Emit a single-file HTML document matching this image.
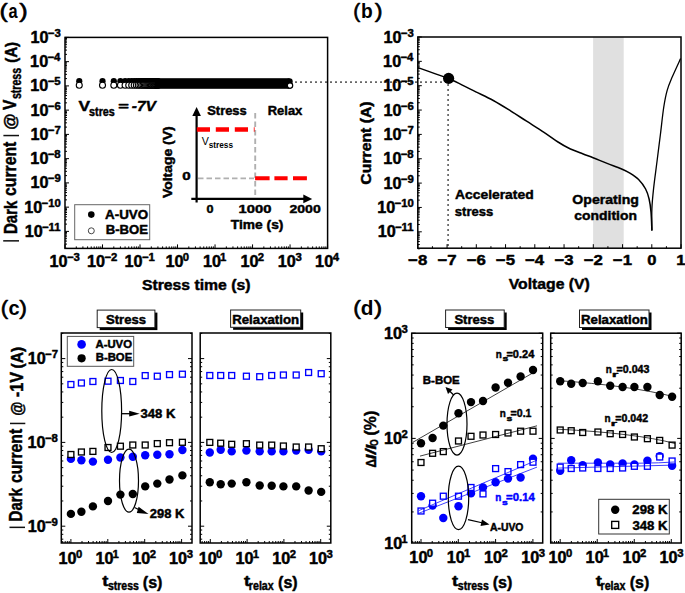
<!DOCTYPE html>
<html><head><meta charset="utf-8"><style>
html,body{margin:0;padding:0;background:#fff;overflow:hidden;width:685px;height:593px;}
svg{display:block;}
</style></head><body>
<svg width="685" height="593" viewBox="0 0 685 593">
<rect width="685" height="593" fill="#fff"/>
<text x="-0.43" y="17.60" font-family="Liberation Sans" font-size="20.6" font-weight="normal" fill="#000" textLength="8.23" lengthAdjust="spacingAndGlyphs"  stroke="#000" stroke-width="0.6" stroke-linejoin="round">(</text>
<text x="8.56" y="17.60" font-family="Liberation Sans" font-size="20.6" font-weight="bold" fill="#000" textLength="9.10" lengthAdjust="spacingAndGlyphs" >a</text>
<text x="19.17" y="17.60" font-family="Liberation Sans" font-size="20.6" font-weight="normal" fill="#000" textLength="8.42" lengthAdjust="spacingAndGlyphs"  stroke="#000" stroke-width="0.6" stroke-linejoin="round">)</text>
<circle cx="79.26" cy="81.20" r="3.1" fill="#000"/>
<circle cx="102.51" cy="81.20" r="3.1" fill="#000"/>
<circle cx="113.80" cy="81.20" r="3.1" fill="#000"/>
<circle cx="120.41" cy="81.20" r="3.1" fill="#000"/>
<circle cx="125.09" cy="81.20" r="3.1" fill="#000"/>
<circle cx="128.73" cy="81.20" r="3.1" fill="#000"/>
<circle cx="131.70" cy="81.20" r="3.1" fill="#000"/>
<circle cx="134.21" cy="81.20" r="3.1" fill="#000"/>
<circle cx="136.38" cy="81.20" r="3.1" fill="#000"/>
<circle cx="138.30" cy="81.20" r="3.1" fill="#000"/>
<circle cx="140.02" cy="81.20" r="3.1" fill="#000"/>
<circle cx="141.57" cy="81.20" r="3.1" fill="#000"/>
<circle cx="142.99" cy="81.20" r="3.1" fill="#000"/>
<circle cx="144.29" cy="81.20" r="3.1" fill="#000"/>
<circle cx="145.50" cy="81.20" r="3.1" fill="#000"/>
<circle cx="146.63" cy="81.20" r="3.1" fill="#000"/>
<circle cx="147.68" cy="81.20" r="3.1" fill="#000"/>
<circle cx="148.66" cy="81.20" r="3.1" fill="#000"/>
<circle cx="149.60" cy="81.20" r="3.1" fill="#000"/>
<circle cx="150.48" cy="81.20" r="3.1" fill="#000"/>
<circle cx="151.31" cy="81.20" r="3.1" fill="#000"/>
<circle cx="152.11" cy="81.20" r="3.1" fill="#000"/>
<circle cx="152.86" cy="81.20" r="3.1" fill="#000"/>
<circle cx="153.59" cy="81.20" r="3.1" fill="#000"/>
<circle cx="154.28" cy="81.20" r="3.1" fill="#000"/>
<circle cx="154.95" cy="81.20" r="3.1" fill="#000"/>
<circle cx="155.59" cy="81.20" r="3.1" fill="#000"/>
<circle cx="156.20" cy="81.20" r="3.1" fill="#000"/>
<circle cx="156.79" cy="81.20" r="3.1" fill="#000"/>
<circle cx="157.36" cy="81.20" r="3.1" fill="#000"/>
<circle cx="157.92" cy="81.20" r="3.1" fill="#000"/>
<circle cx="79.26" cy="85.3" r="3.0" fill="#fff" stroke="#000" stroke-width="1.1"/>
<circle cx="102.51" cy="85.3" r="3.0" fill="#fff" stroke="#000" stroke-width="1.1"/>
<circle cx="113.80" cy="85.3" r="3.0" fill="#fff" stroke="#000" stroke-width="1.1"/>
<circle cx="120.41" cy="85.3" r="3.0" fill="#fff" stroke="#000" stroke-width="1.1"/>
<circle cx="125.09" cy="85.3" r="3.0" fill="#fff" stroke="#000" stroke-width="1.1"/>
<circle cx="128.73" cy="85.3" r="3.0" fill="#fff" stroke="#000" stroke-width="1.1"/>
<circle cx="131.70" cy="85.3" r="3.0" fill="#fff" stroke="#000" stroke-width="1.1"/>
<circle cx="134.21" cy="85.3" r="3.0" fill="#fff" stroke="#000" stroke-width="1.1"/>
<circle cx="136.38" cy="85.3" r="3.0" fill="#fff" stroke="#000" stroke-width="1.1"/>
<circle cx="138.30" cy="85.3" r="3.0" fill="#fff" stroke="#000" stroke-width="1.1"/>
<circle cx="140.02" cy="85.3" r="3.0" fill="#fff" stroke="#000" stroke-width="1.1"/>
<circle cx="141.57" cy="85.3" r="3.0" fill="#fff" stroke="#000" stroke-width="1.1"/>
<circle cx="142.99" cy="85.3" r="3.0" fill="#fff" stroke="#000" stroke-width="1.1"/>
<circle cx="144.29" cy="85.3" r="3.0" fill="#fff" stroke="#000" stroke-width="1.1"/>
<circle cx="145.50" cy="85.3" r="3.0" fill="#fff" stroke="#000" stroke-width="1.1"/>
<circle cx="146.63" cy="85.3" r="3.0" fill="#fff" stroke="#000" stroke-width="1.1"/>
<circle cx="147.68" cy="85.3" r="3.0" fill="#fff" stroke="#000" stroke-width="1.1"/>
<circle cx="148.66" cy="85.3" r="3.0" fill="#fff" stroke="#000" stroke-width="1.1"/>
<circle cx="149.60" cy="85.3" r="3.0" fill="#fff" stroke="#000" stroke-width="1.1"/>
<circle cx="150.48" cy="85.3" r="3.0" fill="#fff" stroke="#000" stroke-width="1.1"/>
<circle cx="151.31" cy="85.3" r="3.0" fill="#fff" stroke="#000" stroke-width="1.1"/>
<circle cx="152.11" cy="85.3" r="3.0" fill="#fff" stroke="#000" stroke-width="1.1"/>
<circle cx="152.86" cy="85.3" r="3.0" fill="#fff" stroke="#000" stroke-width="1.1"/>
<circle cx="153.59" cy="85.3" r="3.0" fill="#fff" stroke="#000" stroke-width="1.1"/>
<circle cx="154.28" cy="85.3" r="3.0" fill="#fff" stroke="#000" stroke-width="1.1"/>
<circle cx="154.95" cy="85.3" r="3.0" fill="#fff" stroke="#000" stroke-width="1.1"/>
<circle cx="155.59" cy="85.3" r="3.0" fill="#fff" stroke="#000" stroke-width="1.1"/>
<circle cx="156.20" cy="85.3" r="3.0" fill="#fff" stroke="#000" stroke-width="1.1"/>
<circle cx="156.79" cy="85.3" r="3.0" fill="#fff" stroke="#000" stroke-width="1.1"/>
<circle cx="157.36" cy="85.3" r="3.0" fill="#fff" stroke="#000" stroke-width="1.1"/>
<circle cx="157.92" cy="85.3" r="3.0" fill="#fff" stroke="#000" stroke-width="1.1"/>
<rect x="154.95" y="78.2" width="134.55" height="10.6" fill="#000"/>
<circle cx="289.5" cy="81.4" r="3.2" fill="#000"/>
<circle cx="289.5" cy="85.4" r="3.2" fill="#000"/>
<circle cx="290" cy="85.6" r="2.7" fill="#fff" stroke="#000" stroke-width="1.2"/>
<line x1="295" y1="82.2" x2="448" y2="82.2" stroke="#666" stroke-width="1.7" stroke-dasharray="2,3"/>
<rect x="65.00" y="37.40" width="262.60" height="211.00" fill="none" stroke="#000" stroke-width="1.5"/>
<line x1="65.00" y1="248.35" x2="67.00" y2="248.35" stroke="#000" stroke-width="1.0" />
<line x1="65.00" y1="244.08" x2="67.00" y2="244.08" stroke="#000" stroke-width="1.0" />
<line x1="65.00" y1="241.05" x2="67.00" y2="241.05" stroke="#000" stroke-width="1.0" />
<line x1="65.00" y1="238.70" x2="67.00" y2="238.70" stroke="#000" stroke-width="1.0" />
<line x1="65.00" y1="236.78" x2="67.00" y2="236.78" stroke="#000" stroke-width="1.0" />
<line x1="65.00" y1="235.16" x2="67.00" y2="235.16" stroke="#000" stroke-width="1.0" />
<line x1="65.00" y1="233.75" x2="67.00" y2="233.75" stroke="#000" stroke-width="1.0" />
<line x1="65.00" y1="232.51" x2="67.00" y2="232.51" stroke="#000" stroke-width="1.0" />
<line x1="65.00" y1="231.40" x2="69.00" y2="231.40" stroke="#000" stroke-width="1.0" />
<line x1="65.00" y1="224.10" x2="67.00" y2="224.10" stroke="#000" stroke-width="1.0" />
<line x1="65.00" y1="219.83" x2="67.00" y2="219.83" stroke="#000" stroke-width="1.0" />
<line x1="65.00" y1="216.80" x2="67.00" y2="216.80" stroke="#000" stroke-width="1.0" />
<line x1="65.00" y1="214.45" x2="67.00" y2="214.45" stroke="#000" stroke-width="1.0" />
<line x1="65.00" y1="212.53" x2="67.00" y2="212.53" stroke="#000" stroke-width="1.0" />
<line x1="65.00" y1="210.91" x2="67.00" y2="210.91" stroke="#000" stroke-width="1.0" />
<line x1="65.00" y1="209.50" x2="67.00" y2="209.50" stroke="#000" stroke-width="1.0" />
<line x1="65.00" y1="208.26" x2="67.00" y2="208.26" stroke="#000" stroke-width="1.0" />
<line x1="65.00" y1="207.15" x2="69.00" y2="207.15" stroke="#000" stroke-width="1.0" />
<line x1="65.00" y1="199.85" x2="67.00" y2="199.85" stroke="#000" stroke-width="1.0" />
<line x1="65.00" y1="195.58" x2="67.00" y2="195.58" stroke="#000" stroke-width="1.0" />
<line x1="65.00" y1="192.55" x2="67.00" y2="192.55" stroke="#000" stroke-width="1.0" />
<line x1="65.00" y1="190.20" x2="67.00" y2="190.20" stroke="#000" stroke-width="1.0" />
<line x1="65.00" y1="188.28" x2="67.00" y2="188.28" stroke="#000" stroke-width="1.0" />
<line x1="65.00" y1="186.66" x2="67.00" y2="186.66" stroke="#000" stroke-width="1.0" />
<line x1="65.00" y1="185.25" x2="67.00" y2="185.25" stroke="#000" stroke-width="1.0" />
<line x1="65.00" y1="184.01" x2="67.00" y2="184.01" stroke="#000" stroke-width="1.0" />
<line x1="65.00" y1="182.90" x2="69.00" y2="182.90" stroke="#000" stroke-width="1.0" />
<line x1="65.00" y1="175.60" x2="67.00" y2="175.60" stroke="#000" stroke-width="1.0" />
<line x1="65.00" y1="171.33" x2="67.00" y2="171.33" stroke="#000" stroke-width="1.0" />
<line x1="65.00" y1="168.30" x2="67.00" y2="168.30" stroke="#000" stroke-width="1.0" />
<line x1="65.00" y1="165.95" x2="67.00" y2="165.95" stroke="#000" stroke-width="1.0" />
<line x1="65.00" y1="164.03" x2="67.00" y2="164.03" stroke="#000" stroke-width="1.0" />
<line x1="65.00" y1="162.41" x2="67.00" y2="162.41" stroke="#000" stroke-width="1.0" />
<line x1="65.00" y1="161.00" x2="67.00" y2="161.00" stroke="#000" stroke-width="1.0" />
<line x1="65.00" y1="159.76" x2="67.00" y2="159.76" stroke="#000" stroke-width="1.0" />
<line x1="65.00" y1="158.65" x2="69.00" y2="158.65" stroke="#000" stroke-width="1.0" />
<line x1="65.00" y1="151.35" x2="67.00" y2="151.35" stroke="#000" stroke-width="1.0" />
<line x1="65.00" y1="147.08" x2="67.00" y2="147.08" stroke="#000" stroke-width="1.0" />
<line x1="65.00" y1="144.05" x2="67.00" y2="144.05" stroke="#000" stroke-width="1.0" />
<line x1="65.00" y1="141.70" x2="67.00" y2="141.70" stroke="#000" stroke-width="1.0" />
<line x1="65.00" y1="139.78" x2="67.00" y2="139.78" stroke="#000" stroke-width="1.0" />
<line x1="65.00" y1="138.16" x2="67.00" y2="138.16" stroke="#000" stroke-width="1.0" />
<line x1="65.00" y1="136.75" x2="67.00" y2="136.75" stroke="#000" stroke-width="1.0" />
<line x1="65.00" y1="135.51" x2="67.00" y2="135.51" stroke="#000" stroke-width="1.0" />
<line x1="65.00" y1="134.40" x2="69.00" y2="134.40" stroke="#000" stroke-width="1.0" />
<line x1="65.00" y1="127.10" x2="67.00" y2="127.10" stroke="#000" stroke-width="1.0" />
<line x1="65.00" y1="122.83" x2="67.00" y2="122.83" stroke="#000" stroke-width="1.0" />
<line x1="65.00" y1="119.80" x2="67.00" y2="119.80" stroke="#000" stroke-width="1.0" />
<line x1="65.00" y1="117.45" x2="67.00" y2="117.45" stroke="#000" stroke-width="1.0" />
<line x1="65.00" y1="115.53" x2="67.00" y2="115.53" stroke="#000" stroke-width="1.0" />
<line x1="65.00" y1="113.91" x2="67.00" y2="113.91" stroke="#000" stroke-width="1.0" />
<line x1="65.00" y1="112.50" x2="67.00" y2="112.50" stroke="#000" stroke-width="1.0" />
<line x1="65.00" y1="111.26" x2="67.00" y2="111.26" stroke="#000" stroke-width="1.0" />
<line x1="65.00" y1="110.15" x2="69.00" y2="110.15" stroke="#000" stroke-width="1.0" />
<line x1="65.00" y1="102.85" x2="67.00" y2="102.85" stroke="#000" stroke-width="1.0" />
<line x1="65.00" y1="98.58" x2="67.00" y2="98.58" stroke="#000" stroke-width="1.0" />
<line x1="65.00" y1="95.55" x2="67.00" y2="95.55" stroke="#000" stroke-width="1.0" />
<line x1="65.00" y1="93.20" x2="67.00" y2="93.20" stroke="#000" stroke-width="1.0" />
<line x1="65.00" y1="91.28" x2="67.00" y2="91.28" stroke="#000" stroke-width="1.0" />
<line x1="65.00" y1="89.66" x2="67.00" y2="89.66" stroke="#000" stroke-width="1.0" />
<line x1="65.00" y1="88.25" x2="67.00" y2="88.25" stroke="#000" stroke-width="1.0" />
<line x1="65.00" y1="87.01" x2="67.00" y2="87.01" stroke="#000" stroke-width="1.0" />
<line x1="65.00" y1="85.90" x2="69.00" y2="85.90" stroke="#000" stroke-width="1.0" />
<line x1="65.00" y1="78.60" x2="67.00" y2="78.60" stroke="#000" stroke-width="1.0" />
<line x1="65.00" y1="74.33" x2="67.00" y2="74.33" stroke="#000" stroke-width="1.0" />
<line x1="65.00" y1="71.30" x2="67.00" y2="71.30" stroke="#000" stroke-width="1.0" />
<line x1="65.00" y1="68.95" x2="67.00" y2="68.95" stroke="#000" stroke-width="1.0" />
<line x1="65.00" y1="67.03" x2="67.00" y2="67.03" stroke="#000" stroke-width="1.0" />
<line x1="65.00" y1="65.41" x2="67.00" y2="65.41" stroke="#000" stroke-width="1.0" />
<line x1="65.00" y1="64.00" x2="67.00" y2="64.00" stroke="#000" stroke-width="1.0" />
<line x1="65.00" y1="62.76" x2="67.00" y2="62.76" stroke="#000" stroke-width="1.0" />
<line x1="65.00" y1="61.65" x2="69.00" y2="61.65" stroke="#000" stroke-width="1.0" />
<line x1="65.00" y1="54.35" x2="67.00" y2="54.35" stroke="#000" stroke-width="1.0" />
<line x1="65.00" y1="50.08" x2="67.00" y2="50.08" stroke="#000" stroke-width="1.0" />
<line x1="65.00" y1="47.05" x2="67.00" y2="47.05" stroke="#000" stroke-width="1.0" />
<line x1="65.00" y1="44.70" x2="67.00" y2="44.70" stroke="#000" stroke-width="1.0" />
<line x1="65.00" y1="42.78" x2="67.00" y2="42.78" stroke="#000" stroke-width="1.0" />
<line x1="65.00" y1="41.16" x2="67.00" y2="41.16" stroke="#000" stroke-width="1.0" />
<line x1="65.00" y1="39.75" x2="67.00" y2="39.75" stroke="#000" stroke-width="1.0" />
<line x1="65.00" y1="38.51" x2="67.00" y2="38.51" stroke="#000" stroke-width="1.0" />
<line x1="65.00" y1="37.40" x2="69.00" y2="37.40" stroke="#000" stroke-width="1.0" />
<line x1="65.00" y1="248.40" x2="65.00" y2="244.40" stroke="#000" stroke-width="1.0" />
<line x1="76.29" y1="248.40" x2="76.29" y2="246.40" stroke="#000" stroke-width="1.0" />
<line x1="82.90" y1="248.40" x2="82.90" y2="246.40" stroke="#000" stroke-width="1.0" />
<line x1="87.58" y1="248.40" x2="87.58" y2="246.40" stroke="#000" stroke-width="1.0" />
<line x1="91.22" y1="248.40" x2="91.22" y2="246.40" stroke="#000" stroke-width="1.0" />
<line x1="94.19" y1="248.40" x2="94.19" y2="246.40" stroke="#000" stroke-width="1.0" />
<line x1="96.70" y1="248.40" x2="96.70" y2="246.40" stroke="#000" stroke-width="1.0" />
<line x1="98.87" y1="248.40" x2="98.87" y2="246.40" stroke="#000" stroke-width="1.0" />
<line x1="100.79" y1="248.40" x2="100.79" y2="246.40" stroke="#000" stroke-width="1.0" />
<line x1="102.51" y1="248.40" x2="102.51" y2="244.40" stroke="#000" stroke-width="1.0" />
<line x1="113.80" y1="248.40" x2="113.80" y2="246.40" stroke="#000" stroke-width="1.0" />
<line x1="120.41" y1="248.40" x2="120.41" y2="246.40" stroke="#000" stroke-width="1.0" />
<line x1="125.09" y1="248.40" x2="125.09" y2="246.40" stroke="#000" stroke-width="1.0" />
<line x1="128.73" y1="248.40" x2="128.73" y2="246.40" stroke="#000" stroke-width="1.0" />
<line x1="131.70" y1="248.40" x2="131.70" y2="246.40" stroke="#000" stroke-width="1.0" />
<line x1="134.21" y1="248.40" x2="134.21" y2="246.40" stroke="#000" stroke-width="1.0" />
<line x1="136.38" y1="248.40" x2="136.38" y2="246.40" stroke="#000" stroke-width="1.0" />
<line x1="138.30" y1="248.40" x2="138.30" y2="246.40" stroke="#000" stroke-width="1.0" />
<line x1="140.02" y1="248.40" x2="140.02" y2="244.40" stroke="#000" stroke-width="1.0" />
<line x1="151.31" y1="248.40" x2="151.31" y2="246.40" stroke="#000" stroke-width="1.0" />
<line x1="157.92" y1="248.40" x2="157.92" y2="246.40" stroke="#000" stroke-width="1.0" />
<line x1="162.60" y1="248.40" x2="162.60" y2="246.40" stroke="#000" stroke-width="1.0" />
<line x1="166.24" y1="248.40" x2="166.24" y2="246.40" stroke="#000" stroke-width="1.0" />
<line x1="169.21" y1="248.40" x2="169.21" y2="246.40" stroke="#000" stroke-width="1.0" />
<line x1="171.72" y1="248.40" x2="171.72" y2="246.40" stroke="#000" stroke-width="1.0" />
<line x1="173.89" y1="248.40" x2="173.89" y2="246.40" stroke="#000" stroke-width="1.0" />
<line x1="175.81" y1="248.40" x2="175.81" y2="246.40" stroke="#000" stroke-width="1.0" />
<line x1="177.53" y1="248.40" x2="177.53" y2="244.40" stroke="#000" stroke-width="1.0" />
<line x1="188.82" y1="248.40" x2="188.82" y2="246.40" stroke="#000" stroke-width="1.0" />
<line x1="195.43" y1="248.40" x2="195.43" y2="246.40" stroke="#000" stroke-width="1.0" />
<line x1="200.11" y1="248.40" x2="200.11" y2="246.40" stroke="#000" stroke-width="1.0" />
<line x1="203.75" y1="248.40" x2="203.75" y2="246.40" stroke="#000" stroke-width="1.0" />
<line x1="206.72" y1="248.40" x2="206.72" y2="246.40" stroke="#000" stroke-width="1.0" />
<line x1="209.23" y1="248.40" x2="209.23" y2="246.40" stroke="#000" stroke-width="1.0" />
<line x1="211.40" y1="248.40" x2="211.40" y2="246.40" stroke="#000" stroke-width="1.0" />
<line x1="213.32" y1="248.40" x2="213.32" y2="246.40" stroke="#000" stroke-width="1.0" />
<line x1="215.04" y1="248.40" x2="215.04" y2="244.40" stroke="#000" stroke-width="1.0" />
<line x1="226.33" y1="248.40" x2="226.33" y2="246.40" stroke="#000" stroke-width="1.0" />
<line x1="232.94" y1="248.40" x2="232.94" y2="246.40" stroke="#000" stroke-width="1.0" />
<line x1="237.62" y1="248.40" x2="237.62" y2="246.40" stroke="#000" stroke-width="1.0" />
<line x1="241.26" y1="248.40" x2="241.26" y2="246.40" stroke="#000" stroke-width="1.0" />
<line x1="244.23" y1="248.40" x2="244.23" y2="246.40" stroke="#000" stroke-width="1.0" />
<line x1="246.74" y1="248.40" x2="246.74" y2="246.40" stroke="#000" stroke-width="1.0" />
<line x1="248.91" y1="248.40" x2="248.91" y2="246.40" stroke="#000" stroke-width="1.0" />
<line x1="250.83" y1="248.40" x2="250.83" y2="246.40" stroke="#000" stroke-width="1.0" />
<line x1="252.55" y1="248.40" x2="252.55" y2="244.40" stroke="#000" stroke-width="1.0" />
<line x1="263.84" y1="248.40" x2="263.84" y2="246.40" stroke="#000" stroke-width="1.0" />
<line x1="270.45" y1="248.40" x2="270.45" y2="246.40" stroke="#000" stroke-width="1.0" />
<line x1="275.13" y1="248.40" x2="275.13" y2="246.40" stroke="#000" stroke-width="1.0" />
<line x1="278.77" y1="248.40" x2="278.77" y2="246.40" stroke="#000" stroke-width="1.0" />
<line x1="281.74" y1="248.40" x2="281.74" y2="246.40" stroke="#000" stroke-width="1.0" />
<line x1="284.25" y1="248.40" x2="284.25" y2="246.40" stroke="#000" stroke-width="1.0" />
<line x1="286.42" y1="248.40" x2="286.42" y2="246.40" stroke="#000" stroke-width="1.0" />
<line x1="288.34" y1="248.40" x2="288.34" y2="246.40" stroke="#000" stroke-width="1.0" />
<line x1="290.06" y1="248.40" x2="290.06" y2="244.40" stroke="#000" stroke-width="1.0" />
<line x1="301.35" y1="248.40" x2="301.35" y2="246.40" stroke="#000" stroke-width="1.0" />
<line x1="307.96" y1="248.40" x2="307.96" y2="246.40" stroke="#000" stroke-width="1.0" />
<line x1="312.64" y1="248.40" x2="312.64" y2="246.40" stroke="#000" stroke-width="1.0" />
<line x1="316.28" y1="248.40" x2="316.28" y2="246.40" stroke="#000" stroke-width="1.0" />
<line x1="319.25" y1="248.40" x2="319.25" y2="246.40" stroke="#000" stroke-width="1.0" />
<line x1="321.76" y1="248.40" x2="321.76" y2="246.40" stroke="#000" stroke-width="1.0" />
<line x1="323.93" y1="248.40" x2="323.93" y2="246.40" stroke="#000" stroke-width="1.0" />
<line x1="325.85" y1="248.40" x2="325.85" y2="246.40" stroke="#000" stroke-width="1.0" />
<line x1="327.57" y1="248.40" x2="327.57" y2="244.40" stroke="#000" stroke-width="1.0" />
<text x="47.77" y="36.90" font-family="Liberation Sans" font-size="10.8" font-weight="bold" fill="#000" textLength="12.93" lengthAdjust="spacingAndGlyphs"  stroke="#000" stroke-width="0.45" stroke-linejoin="round">−3</text>
<text x="30.45" y="42.90" font-family="Liberation Sans" font-size="15.6" font-weight="bold" fill="#000" textLength="18.06" lengthAdjust="spacingAndGlyphs"  stroke="#000" stroke-width="0.45" stroke-linejoin="round">10</text>
<text x="47.43" y="61.15" font-family="Liberation Sans" font-size="10.8" font-weight="bold" fill="#000" textLength="12.93" lengthAdjust="spacingAndGlyphs"  stroke="#000" stroke-width="0.45" stroke-linejoin="round">−4</text>
<text x="30.11" y="67.15" font-family="Liberation Sans" font-size="15.6" font-weight="bold" fill="#000" textLength="18.06" lengthAdjust="spacingAndGlyphs"  stroke="#000" stroke-width="0.45" stroke-linejoin="round">10</text>
<text x="47.66" y="85.40" font-family="Liberation Sans" font-size="10.8" font-weight="bold" fill="#000" textLength="12.93" lengthAdjust="spacingAndGlyphs"  stroke="#000" stroke-width="0.45" stroke-linejoin="round">−5</text>
<text x="30.34" y="91.40" font-family="Liberation Sans" font-size="15.6" font-weight="bold" fill="#000" textLength="18.06" lengthAdjust="spacingAndGlyphs"  stroke="#000" stroke-width="0.45" stroke-linejoin="round">10</text>
<text x="47.77" y="109.65" font-family="Liberation Sans" font-size="10.8" font-weight="bold" fill="#000" textLength="12.93" lengthAdjust="spacingAndGlyphs"  stroke="#000" stroke-width="0.45" stroke-linejoin="round">−6</text>
<text x="30.45" y="115.65" font-family="Liberation Sans" font-size="15.6" font-weight="bold" fill="#000" textLength="18.06" lengthAdjust="spacingAndGlyphs"  stroke="#000" stroke-width="0.45" stroke-linejoin="round">10</text>
<text x="47.83" y="133.90" font-family="Liberation Sans" font-size="10.8" font-weight="bold" fill="#000" textLength="12.93" lengthAdjust="spacingAndGlyphs"  stroke="#000" stroke-width="0.45" stroke-linejoin="round">−7</text>
<text x="30.51" y="139.90" font-family="Liberation Sans" font-size="15.6" font-weight="bold" fill="#000" textLength="18.06" lengthAdjust="spacingAndGlyphs"  stroke="#000" stroke-width="0.45" stroke-linejoin="round">10</text>
<text x="47.71" y="158.15" font-family="Liberation Sans" font-size="10.8" font-weight="bold" fill="#000" textLength="12.93" lengthAdjust="spacingAndGlyphs"  stroke="#000" stroke-width="0.45" stroke-linejoin="round">−8</text>
<text x="30.39" y="164.15" font-family="Liberation Sans" font-size="15.6" font-weight="bold" fill="#000" textLength="18.06" lengthAdjust="spacingAndGlyphs"  stroke="#000" stroke-width="0.45" stroke-linejoin="round">10</text>
<text x="47.77" y="182.40" font-family="Liberation Sans" font-size="10.8" font-weight="bold" fill="#000" textLength="12.93" lengthAdjust="spacingAndGlyphs"  stroke="#000" stroke-width="0.45" stroke-linejoin="round">−9</text>
<text x="30.45" y="188.40" font-family="Liberation Sans" font-size="15.6" font-weight="bold" fill="#000" textLength="18.06" lengthAdjust="spacingAndGlyphs"  stroke="#000" stroke-width="0.45" stroke-linejoin="round">10</text>
<text x="41.53" y="206.65" font-family="Liberation Sans" font-size="10.8" font-weight="bold" fill="#000" textLength="19.24" lengthAdjust="spacingAndGlyphs"  stroke="#000" stroke-width="0.45" stroke-linejoin="round">−10</text>
<text x="24.21" y="212.65" font-family="Liberation Sans" font-size="15.6" font-weight="bold" fill="#000" textLength="18.06" lengthAdjust="spacingAndGlyphs"  stroke="#000" stroke-width="0.45" stroke-linejoin="round">10</text>
<text x="41.99" y="230.90" font-family="Liberation Sans" font-size="10.8" font-weight="bold" fill="#000" textLength="18.61" lengthAdjust="spacingAndGlyphs"  stroke="#000" stroke-width="0.45" stroke-linejoin="round">−11</text>
<text x="24.67" y="236.90" font-family="Liberation Sans" font-size="15.6" font-weight="bold" fill="#000" textLength="18.06" lengthAdjust="spacingAndGlyphs"  stroke="#000" stroke-width="0.45" stroke-linejoin="round">10</text>
<text x="49.54" y="267.20" font-family="Liberation Sans" font-size="15.6" font-weight="bold" fill="#000" textLength="18.06" lengthAdjust="spacingAndGlyphs"  stroke="#000" stroke-width="0.45" stroke-linejoin="round">10</text>
<text x="66.96" y="261.20" font-family="Liberation Sans" font-size="10.8" font-weight="bold" fill="#000" textLength="12.93" lengthAdjust="spacingAndGlyphs"  stroke="#000" stroke-width="0.45" stroke-linejoin="round">−3</text>
<text x="87.08" y="267.20" font-family="Liberation Sans" font-size="15.6" font-weight="bold" fill="#000" textLength="18.06" lengthAdjust="spacingAndGlyphs"  stroke="#000" stroke-width="0.45" stroke-linejoin="round">10</text>
<text x="104.50" y="261.20" font-family="Liberation Sans" font-size="10.8" font-weight="bold" fill="#000" textLength="12.93" lengthAdjust="spacingAndGlyphs"  stroke="#000" stroke-width="0.45" stroke-linejoin="round">−2</text>
<text x="124.50" y="267.20" font-family="Liberation Sans" font-size="15.6" font-weight="bold" fill="#000" textLength="18.06" lengthAdjust="spacingAndGlyphs"  stroke="#000" stroke-width="0.45" stroke-linejoin="round">10</text>
<text x="141.92" y="261.20" font-family="Liberation Sans" font-size="10.8" font-weight="bold" fill="#000" textLength="12.93" lengthAdjust="spacingAndGlyphs"  stroke="#000" stroke-width="0.45" stroke-linejoin="round">−1</text>
<text x="165.41" y="267.20" font-family="Liberation Sans" font-size="15.6" font-weight="bold" fill="#000" textLength="18.06" lengthAdjust="spacingAndGlyphs"  stroke="#000" stroke-width="0.45" stroke-linejoin="round">10</text>
<text x="182.83" y="261.20" font-family="Liberation Sans" font-size="10.8" font-weight="bold" fill="#000" textLength="6.31" lengthAdjust="spacingAndGlyphs"  stroke="#000" stroke-width="0.45" stroke-linejoin="round">0</text>
<text x="202.95" y="267.20" font-family="Liberation Sans" font-size="15.6" font-weight="bold" fill="#000" textLength="18.06" lengthAdjust="spacingAndGlyphs"  stroke="#000" stroke-width="0.45" stroke-linejoin="round">10</text>
<text x="220.14" y="261.20" font-family="Liberation Sans" font-size="10.8" font-weight="bold" fill="#000" textLength="6.31" lengthAdjust="spacingAndGlyphs"  stroke="#000" stroke-width="0.45" stroke-linejoin="round">1</text>
<text x="240.40" y="267.20" font-family="Liberation Sans" font-size="15.6" font-weight="bold" fill="#000" textLength="18.06" lengthAdjust="spacingAndGlyphs"  stroke="#000" stroke-width="0.45" stroke-linejoin="round">10</text>
<text x="257.88" y="261.20" font-family="Liberation Sans" font-size="10.8" font-weight="bold" fill="#000" textLength="6.31" lengthAdjust="spacingAndGlyphs"  stroke="#000" stroke-width="0.45" stroke-linejoin="round">2</text>
<text x="277.83" y="267.20" font-family="Liberation Sans" font-size="15.6" font-weight="bold" fill="#000" textLength="18.06" lengthAdjust="spacingAndGlyphs"  stroke="#000" stroke-width="0.45" stroke-linejoin="round">10</text>
<text x="295.42" y="261.20" font-family="Liberation Sans" font-size="10.8" font-weight="bold" fill="#000" textLength="6.31" lengthAdjust="spacingAndGlyphs"  stroke="#000" stroke-width="0.45" stroke-linejoin="round">3</text>
<text x="315.11" y="267.20" font-family="Liberation Sans" font-size="15.6" font-weight="bold" fill="#000" textLength="18.06" lengthAdjust="spacingAndGlyphs"  stroke="#000" stroke-width="0.45" stroke-linejoin="round">10</text>
<text x="332.82" y="261.20" font-family="Liberation Sans" font-size="10.8" font-weight="bold" fill="#000" textLength="6.31" lengthAdjust="spacingAndGlyphs"  stroke="#000" stroke-width="0.45" stroke-linejoin="round">4</text>
<text x="141.93" y="289.60" font-family="Liberation Sans" font-size="14.7" font-weight="bold" fill="#000" textLength="108.61" lengthAdjust="spacingAndGlyphs"  stroke="#000" stroke-width="0.45" stroke-linejoin="round">Stress time (s)</text>
<rect x="3.2" y="240.1" width="15.8" height="1.5" fill="#111"/>
<text transform="translate(16.70,233.97) rotate(-90)" x="0" y="0" font-family="Liberation Sans" font-size="18.5" font-weight="bold" fill="#000" textLength="33.36" lengthAdjust="spacingAndGlyphs"  stroke="#000" stroke-width="0.45" stroke-linejoin="round">Dark</text>
<text transform="translate(16.00,196.03) rotate(-90)" x="0" y="0" font-family="Liberation Sans" font-size="17.5" font-weight="bold" fill="#000" textLength="54.37" lengthAdjust="spacingAndGlyphs"  stroke="#000" stroke-width="0.45" stroke-linejoin="round">current</text>
<rect x="3.4" y="134.8" width="15.6" height="1.5" fill="#111"/>
<text transform="translate(16.00,129.72) rotate(-90)" x="0" y="0" font-family="Liberation Sans" font-size="17.4" font-weight="bold" fill="#000" textLength="16.23" lengthAdjust="spacingAndGlyphs"  stroke="#000" stroke-width="0.45" stroke-linejoin="round">@</text>
<text transform="translate(16.00,109.88) rotate(-90)" x="0" y="0" font-family="Liberation Sans" font-size="17.6" font-weight="bold" fill="#000" textLength="10.39" lengthAdjust="spacingAndGlyphs"  stroke="#000" stroke-width="0.45" stroke-linejoin="round">V</text>
<text transform="translate(20.90,99.07) rotate(-90)" x="0" y="0" font-family="Liberation Sans" font-size="14" font-weight="bold" fill="#000" textLength="31.21" lengthAdjust="spacingAndGlyphs"  stroke="#000" stroke-width="0.45" stroke-linejoin="round">stress</text>
<text transform="translate(16.50,62.85) rotate(-90)" x="0" y="0" font-family="Liberation Sans" font-size="17.3" font-weight="bold" fill="#000" textLength="20.88" lengthAdjust="spacingAndGlyphs"  stroke="#000" stroke-width="0.45" stroke-linejoin="round">(A)</text>
<text x="78.61" y="111.40" font-family="Liberation Sans" font-size="15.5" font-weight="bold" fill="#000" textLength="11.61" lengthAdjust="spacingAndGlyphs"  stroke="#000" stroke-width="0.45" stroke-linejoin="round">V</text>
<text x="89.12" y="116.00" font-family="Liberation Sans" font-size="12.3" font-weight="bold" fill="#000" textLength="25.71" lengthAdjust="spacingAndGlyphs"  stroke="#000" stroke-width="0.45" stroke-linejoin="round">stres</text>
<text x="118.27" y="110.40" font-family="Liberation Sans" font-size="11" font-weight="bold" fill="#000" textLength="10.64" lengthAdjust="spacingAndGlyphs"  stroke="#000" stroke-width="0.45" stroke-linejoin="round">=</text>
<text x="131.73" y="111.40" font-family="Liberation Sans" font-size="15.5" font-weight="bold" font-style="italic" fill="#000" textLength="24.30" lengthAdjust="spacingAndGlyphs"  stroke="#000" stroke-width="0.45" stroke-linejoin="round">-7V</text>
<rect x="74.70" y="204.70" width="75.00" height="35.00" fill="none" stroke="#666" stroke-width="1.0"/>
<circle cx="91.30" cy="214.60" r="3.3" fill="#000"/>
<circle cx="91.3" cy="230.8" r="3.0" fill="#fff" stroke="#333" stroke-width="0.9"/>
<text x="105.07" y="218.90" font-family="Liberation Sans" font-size="12.6" font-weight="bold" fill="#000" textLength="43.10" lengthAdjust="spacingAndGlyphs"  stroke="#000" stroke-width="0.45" stroke-linejoin="round">A-UVO</text>
<text x="105.75" y="234.40" font-family="Liberation Sans" font-size="12.6" font-weight="bold" fill="#000" textLength="42.34" lengthAdjust="spacingAndGlyphs"  stroke="#000" stroke-width="0.45" stroke-linejoin="round">B-BOE</text>
<line x1="196.60" y1="115.00" x2="196.60" y2="202.50" stroke="#000" stroke-width="2.2" />
<polygon points="196.6,107 192.3,116 200.9,116" fill="#000"/>
<line x1="191.30" y1="198.90" x2="304.00" y2="198.90" stroke="#000" stroke-width="2.2" />
<polygon points="312.2,198.9 303.3,194.6 303.3,203.3" fill="#000"/>
<line x1="198" y1="178.4" x2="254" y2="178.4" stroke="#b0b0b0" stroke-width="1.9" stroke-dasharray="5.5,3"/>
<line x1="255.2" y1="113" x2="255.2" y2="198" stroke="#b0b0b0" stroke-width="1.9" stroke-dasharray="5.5,3"/>
<line x1="196.8" y1="129.6" x2="254.6" y2="129.6" stroke="#f00" stroke-width="4.5" stroke-dasharray="13.2,5.8"/>
<line x1="255.1" y1="178.3" x2="306.9" y2="178.3" stroke="#f00" stroke-width="4" stroke-dasharray="14.5,4.8,13.2,5.4,14"/>
<text x="207.21" y="114.90" font-family="Liberation Sans" font-size="13" font-weight="bold" fill="#000" textLength="39.54" lengthAdjust="spacingAndGlyphs"  stroke="#000" stroke-width="0.45" stroke-linejoin="round">Stress</text>
<text x="267.76" y="114.90" font-family="Liberation Sans" font-size="13" font-weight="bold" fill="#000" textLength="34.55" lengthAdjust="spacingAndGlyphs"  stroke="#000" stroke-width="0.45" stroke-linejoin="round">Relax</text>
<text transform="translate(172.30,198.07) rotate(-90)" x="0" y="0" font-family="Liberation Sans" font-size="12.5" font-weight="bold" fill="#000" textLength="71.75" lengthAdjust="spacingAndGlyphs"  stroke="#000" stroke-width="0.45" stroke-linejoin="round">Voltage (V)</text>
<text x="201.65" y="145.20" font-family="Liberation Sans" font-size="10.5" font-weight="normal" fill="#000" textLength="7.13" lengthAdjust="spacingAndGlyphs" >V</text>
<text x="208.71" y="148.20" font-family="Liberation Sans" font-size="8.5" font-weight="bold" fill="#000" textLength="24.33" lengthAdjust="spacingAndGlyphs" >stress</text>
<text x="182.29" y="180.10" font-family="Liberation Sans" font-size="11.8" font-weight="bold" fill="#000" textLength="8.43" lengthAdjust="spacingAndGlyphs"  stroke="#000" stroke-width="0.45" stroke-linejoin="round">0</text>
<text x="206.49" y="213.10" font-family="Liberation Sans" font-size="11.5" font-weight="bold" fill="#000" textLength="7.03" lengthAdjust="spacingAndGlyphs"  stroke="#000" stroke-width="0.45" stroke-linejoin="round">0</text>
<text x="238.62" y="213.10" font-family="Liberation Sans" font-size="11.5" font-weight="bold" fill="#000" textLength="32.77" lengthAdjust="spacingAndGlyphs"  stroke="#000" stroke-width="0.45" stroke-linejoin="round">1000</text>
<text x="289.51" y="213.10" font-family="Liberation Sans" font-size="11.5" font-weight="bold" fill="#000" textLength="31.25" lengthAdjust="spacingAndGlyphs"  stroke="#000" stroke-width="0.45" stroke-linejoin="round">2000</text>
<text x="230.86" y="229.00" font-family="Liberation Sans" font-size="12.5" font-weight="bold" fill="#000" textLength="52.57" lengthAdjust="spacingAndGlyphs"  stroke="#000" stroke-width="0.45" stroke-linejoin="round">Time (s)</text>
<text x="353.33" y="17.60" font-family="Liberation Sans" font-size="20.6" font-weight="normal" fill="#000" textLength="7.04" lengthAdjust="spacingAndGlyphs"  stroke="#000" stroke-width="0.6" stroke-linejoin="round">(</text>
<text x="361.05" y="17.60" font-family="Liberation Sans" font-size="20.6" font-weight="bold" fill="#000" textLength="11.73" lengthAdjust="spacingAndGlyphs" >b</text>
<text x="374.88" y="17.60" font-family="Liberation Sans" font-size="20.6" font-weight="normal" fill="#000" textLength="7.79" lengthAdjust="spacingAndGlyphs"  stroke="#000" stroke-width="0.6" stroke-linejoin="round">)</text>
<rect x="593.1" y="37.0" width="30.6" height="211.2" fill="#e0e0e0"/>
<path d="M418.00,67.60 C420.92,68.65 430.48,72.12 435.50,73.90 C440.52,75.68 443.72,76.48 448.10,78.30 C452.48,80.12 457.18,82.55 461.80,84.80 C466.42,87.05 470.55,89.18 475.80,91.80 C481.05,94.42 487.45,97.28 493.30,100.50 C499.15,103.72 505.35,107.65 510.90,111.10 C516.45,114.55 521.08,117.67 526.60,121.20 C532.12,124.73 538.77,128.83 544.00,132.30 C549.23,135.77 553.92,139.38 558.00,142.00 C562.08,144.62 564.40,146.03 568.50,148.00 C572.60,149.97 578.50,152.18 582.60,153.80 C586.70,155.42 589.02,156.10 593.10,157.70 C597.18,159.30 602.43,161.57 607.10,163.40 C611.77,165.23 617.30,167.08 621.10,168.70 C624.90,170.32 626.98,171.30 629.90,173.10 C632.82,174.90 635.98,176.85 638.60,179.50 C641.22,182.15 643.85,185.75 645.60,189.00 C647.35,192.25 648.20,195.17 649.10,199.00 C650.00,202.83 650.53,206.73 651.00,212.00 C651.47,217.27 651.75,227.50 651.90,230.60" fill="none" stroke="#000" stroke-width="1.5"/>
<path d="M651.90,230.60 C651.90,226.95 651.62,215.73 651.90,208.70 C652.18,201.67 652.75,196.27 653.60,188.40 C654.45,180.53 655.87,170.48 657.00,161.50 C658.13,152.52 659.28,143.50 660.40,134.50 C661.52,125.50 662.58,114.82 663.70,107.50 C664.82,100.18 665.68,95.67 667.10,90.60 C668.52,85.53 669.95,82.43 672.20,77.10 C674.45,71.77 679.20,61.68 680.60,58.60" fill="none" stroke="#000" stroke-width="1.3"/>
<line x1="448.1" y1="84" x2="448.1" y2="248" stroke="#666" stroke-width="1.7" stroke-dasharray="2,3"/>
<circle cx="448.60" cy="78.40" r="5.6" fill="#000"/>
<rect x="417.80" y="37.00" width="263.20" height="211.20" fill="none" stroke="#000" stroke-width="1.5"/>
<line x1="417.80" y1="248.82" x2="419.80" y2="248.82" stroke="#000" stroke-width="1.0" />
<line x1="417.80" y1="244.53" x2="419.80" y2="244.53" stroke="#000" stroke-width="1.0" />
<line x1="417.80" y1="241.49" x2="419.80" y2="241.49" stroke="#000" stroke-width="1.0" />
<line x1="417.80" y1="239.13" x2="419.80" y2="239.13" stroke="#000" stroke-width="1.0" />
<line x1="417.80" y1="237.20" x2="419.80" y2="237.20" stroke="#000" stroke-width="1.0" />
<line x1="417.80" y1="235.57" x2="419.80" y2="235.57" stroke="#000" stroke-width="1.0" />
<line x1="417.80" y1="234.16" x2="419.80" y2="234.16" stroke="#000" stroke-width="1.0" />
<line x1="417.80" y1="232.91" x2="419.80" y2="232.91" stroke="#000" stroke-width="1.0" />
<line x1="417.80" y1="231.80" x2="421.80" y2="231.80" stroke="#000" stroke-width="1.0" />
<line x1="417.80" y1="224.47" x2="419.80" y2="224.47" stroke="#000" stroke-width="1.0" />
<line x1="417.80" y1="220.18" x2="419.80" y2="220.18" stroke="#000" stroke-width="1.0" />
<line x1="417.80" y1="217.14" x2="419.80" y2="217.14" stroke="#000" stroke-width="1.0" />
<line x1="417.80" y1="214.78" x2="419.80" y2="214.78" stroke="#000" stroke-width="1.0" />
<line x1="417.80" y1="212.85" x2="419.80" y2="212.85" stroke="#000" stroke-width="1.0" />
<line x1="417.80" y1="211.22" x2="419.80" y2="211.22" stroke="#000" stroke-width="1.0" />
<line x1="417.80" y1="209.81" x2="419.80" y2="209.81" stroke="#000" stroke-width="1.0" />
<line x1="417.80" y1="208.56" x2="419.80" y2="208.56" stroke="#000" stroke-width="1.0" />
<line x1="417.80" y1="207.45" x2="421.80" y2="207.45" stroke="#000" stroke-width="1.0" />
<line x1="417.80" y1="200.12" x2="419.80" y2="200.12" stroke="#000" stroke-width="1.0" />
<line x1="417.80" y1="195.83" x2="419.80" y2="195.83" stroke="#000" stroke-width="1.0" />
<line x1="417.80" y1="192.79" x2="419.80" y2="192.79" stroke="#000" stroke-width="1.0" />
<line x1="417.80" y1="190.43" x2="419.80" y2="190.43" stroke="#000" stroke-width="1.0" />
<line x1="417.80" y1="188.50" x2="419.80" y2="188.50" stroke="#000" stroke-width="1.0" />
<line x1="417.80" y1="186.87" x2="419.80" y2="186.87" stroke="#000" stroke-width="1.0" />
<line x1="417.80" y1="185.46" x2="419.80" y2="185.46" stroke="#000" stroke-width="1.0" />
<line x1="417.80" y1="184.21" x2="419.80" y2="184.21" stroke="#000" stroke-width="1.0" />
<line x1="417.80" y1="183.10" x2="421.80" y2="183.10" stroke="#000" stroke-width="1.0" />
<line x1="417.80" y1="175.77" x2="419.80" y2="175.77" stroke="#000" stroke-width="1.0" />
<line x1="417.80" y1="171.48" x2="419.80" y2="171.48" stroke="#000" stroke-width="1.0" />
<line x1="417.80" y1="168.44" x2="419.80" y2="168.44" stroke="#000" stroke-width="1.0" />
<line x1="417.80" y1="166.08" x2="419.80" y2="166.08" stroke="#000" stroke-width="1.0" />
<line x1="417.80" y1="164.15" x2="419.80" y2="164.15" stroke="#000" stroke-width="1.0" />
<line x1="417.80" y1="162.52" x2="419.80" y2="162.52" stroke="#000" stroke-width="1.0" />
<line x1="417.80" y1="161.11" x2="419.80" y2="161.11" stroke="#000" stroke-width="1.0" />
<line x1="417.80" y1="159.86" x2="419.80" y2="159.86" stroke="#000" stroke-width="1.0" />
<line x1="417.80" y1="158.75" x2="421.80" y2="158.75" stroke="#000" stroke-width="1.0" />
<line x1="417.80" y1="151.42" x2="419.80" y2="151.42" stroke="#000" stroke-width="1.0" />
<line x1="417.80" y1="147.13" x2="419.80" y2="147.13" stroke="#000" stroke-width="1.0" />
<line x1="417.80" y1="144.09" x2="419.80" y2="144.09" stroke="#000" stroke-width="1.0" />
<line x1="417.80" y1="141.73" x2="419.80" y2="141.73" stroke="#000" stroke-width="1.0" />
<line x1="417.80" y1="139.80" x2="419.80" y2="139.80" stroke="#000" stroke-width="1.0" />
<line x1="417.80" y1="138.17" x2="419.80" y2="138.17" stroke="#000" stroke-width="1.0" />
<line x1="417.80" y1="136.76" x2="419.80" y2="136.76" stroke="#000" stroke-width="1.0" />
<line x1="417.80" y1="135.51" x2="419.80" y2="135.51" stroke="#000" stroke-width="1.0" />
<line x1="417.80" y1="134.40" x2="421.80" y2="134.40" stroke="#000" stroke-width="1.0" />
<line x1="417.80" y1="127.07" x2="419.80" y2="127.07" stroke="#000" stroke-width="1.0" />
<line x1="417.80" y1="122.78" x2="419.80" y2="122.78" stroke="#000" stroke-width="1.0" />
<line x1="417.80" y1="119.74" x2="419.80" y2="119.74" stroke="#000" stroke-width="1.0" />
<line x1="417.80" y1="117.38" x2="419.80" y2="117.38" stroke="#000" stroke-width="1.0" />
<line x1="417.80" y1="115.45" x2="419.80" y2="115.45" stroke="#000" stroke-width="1.0" />
<line x1="417.80" y1="113.82" x2="419.80" y2="113.82" stroke="#000" stroke-width="1.0" />
<line x1="417.80" y1="112.41" x2="419.80" y2="112.41" stroke="#000" stroke-width="1.0" />
<line x1="417.80" y1="111.16" x2="419.80" y2="111.16" stroke="#000" stroke-width="1.0" />
<line x1="417.80" y1="110.05" x2="421.80" y2="110.05" stroke="#000" stroke-width="1.0" />
<line x1="417.80" y1="102.72" x2="419.80" y2="102.72" stroke="#000" stroke-width="1.0" />
<line x1="417.80" y1="98.43" x2="419.80" y2="98.43" stroke="#000" stroke-width="1.0" />
<line x1="417.80" y1="95.39" x2="419.80" y2="95.39" stroke="#000" stroke-width="1.0" />
<line x1="417.80" y1="93.03" x2="419.80" y2="93.03" stroke="#000" stroke-width="1.0" />
<line x1="417.80" y1="91.10" x2="419.80" y2="91.10" stroke="#000" stroke-width="1.0" />
<line x1="417.80" y1="89.47" x2="419.80" y2="89.47" stroke="#000" stroke-width="1.0" />
<line x1="417.80" y1="88.06" x2="419.80" y2="88.06" stroke="#000" stroke-width="1.0" />
<line x1="417.80" y1="86.81" x2="419.80" y2="86.81" stroke="#000" stroke-width="1.0" />
<line x1="417.80" y1="85.70" x2="421.80" y2="85.70" stroke="#000" stroke-width="1.0" />
<line x1="417.80" y1="78.37" x2="419.80" y2="78.37" stroke="#000" stroke-width="1.0" />
<line x1="417.80" y1="74.08" x2="419.80" y2="74.08" stroke="#000" stroke-width="1.0" />
<line x1="417.80" y1="71.04" x2="419.80" y2="71.04" stroke="#000" stroke-width="1.0" />
<line x1="417.80" y1="68.68" x2="419.80" y2="68.68" stroke="#000" stroke-width="1.0" />
<line x1="417.80" y1="66.75" x2="419.80" y2="66.75" stroke="#000" stroke-width="1.0" />
<line x1="417.80" y1="65.12" x2="419.80" y2="65.12" stroke="#000" stroke-width="1.0" />
<line x1="417.80" y1="63.71" x2="419.80" y2="63.71" stroke="#000" stroke-width="1.0" />
<line x1="417.80" y1="62.46" x2="419.80" y2="62.46" stroke="#000" stroke-width="1.0" />
<line x1="417.80" y1="61.35" x2="421.80" y2="61.35" stroke="#000" stroke-width="1.0" />
<line x1="417.80" y1="54.02" x2="419.80" y2="54.02" stroke="#000" stroke-width="1.0" />
<line x1="417.80" y1="49.73" x2="419.80" y2="49.73" stroke="#000" stroke-width="1.0" />
<line x1="417.80" y1="46.69" x2="419.80" y2="46.69" stroke="#000" stroke-width="1.0" />
<line x1="417.80" y1="44.33" x2="419.80" y2="44.33" stroke="#000" stroke-width="1.0" />
<line x1="417.80" y1="42.40" x2="419.80" y2="42.40" stroke="#000" stroke-width="1.0" />
<line x1="417.80" y1="40.77" x2="419.80" y2="40.77" stroke="#000" stroke-width="1.0" />
<line x1="417.80" y1="39.36" x2="419.80" y2="39.36" stroke="#000" stroke-width="1.0" />
<line x1="417.80" y1="38.11" x2="419.80" y2="38.11" stroke="#000" stroke-width="1.0" />
<line x1="417.80" y1="37.00" x2="421.80" y2="37.00" stroke="#000" stroke-width="1.0" />
<line x1="417.80" y1="248.20" x2="417.80" y2="244.20" stroke="#000" stroke-width="1.0" />
<line x1="432.43" y1="248.20" x2="432.43" y2="246.20" stroke="#000" stroke-width="1.0" />
<line x1="447.05" y1="248.20" x2="447.05" y2="244.20" stroke="#000" stroke-width="1.0" />
<line x1="461.68" y1="248.20" x2="461.68" y2="246.20" stroke="#000" stroke-width="1.0" />
<line x1="476.30" y1="248.20" x2="476.30" y2="244.20" stroke="#000" stroke-width="1.0" />
<line x1="490.93" y1="248.20" x2="490.93" y2="246.20" stroke="#000" stroke-width="1.0" />
<line x1="505.55" y1="248.20" x2="505.55" y2="244.20" stroke="#000" stroke-width="1.0" />
<line x1="520.17" y1="248.20" x2="520.17" y2="246.20" stroke="#000" stroke-width="1.0" />
<line x1="534.80" y1="248.20" x2="534.80" y2="244.20" stroke="#000" stroke-width="1.0" />
<line x1="549.42" y1="248.20" x2="549.42" y2="246.20" stroke="#000" stroke-width="1.0" />
<line x1="564.05" y1="248.20" x2="564.05" y2="244.20" stroke="#000" stroke-width="1.0" />
<line x1="578.67" y1="248.20" x2="578.67" y2="246.20" stroke="#000" stroke-width="1.0" />
<line x1="593.30" y1="248.20" x2="593.30" y2="244.20" stroke="#000" stroke-width="1.0" />
<line x1="607.92" y1="248.20" x2="607.92" y2="246.20" stroke="#000" stroke-width="1.0" />
<line x1="622.55" y1="248.20" x2="622.55" y2="244.20" stroke="#000" stroke-width="1.0" />
<line x1="637.17" y1="248.20" x2="637.17" y2="246.20" stroke="#000" stroke-width="1.0" />
<line x1="651.80" y1="248.20" x2="651.80" y2="244.20" stroke="#000" stroke-width="1.0" />
<line x1="666.42" y1="248.20" x2="666.42" y2="246.20" stroke="#000" stroke-width="1.0" />
<line x1="681.05" y1="248.20" x2="681.05" y2="244.20" stroke="#000" stroke-width="1.0" />
<text x="400.77" y="36.50" font-family="Liberation Sans" font-size="10.8" font-weight="bold" fill="#000" textLength="12.93" lengthAdjust="spacingAndGlyphs"  stroke="#000" stroke-width="0.45" stroke-linejoin="round">−3</text>
<text x="383.45" y="42.50" font-family="Liberation Sans" font-size="15.6" font-weight="bold" fill="#000" textLength="18.06" lengthAdjust="spacingAndGlyphs"  stroke="#000" stroke-width="0.45" stroke-linejoin="round">10</text>
<text x="400.43" y="60.85" font-family="Liberation Sans" font-size="10.8" font-weight="bold" fill="#000" textLength="12.93" lengthAdjust="spacingAndGlyphs"  stroke="#000" stroke-width="0.45" stroke-linejoin="round">−4</text>
<text x="383.11" y="66.85" font-family="Liberation Sans" font-size="15.6" font-weight="bold" fill="#000" textLength="18.06" lengthAdjust="spacingAndGlyphs"  stroke="#000" stroke-width="0.45" stroke-linejoin="round">10</text>
<text x="400.66" y="85.20" font-family="Liberation Sans" font-size="10.8" font-weight="bold" fill="#000" textLength="12.93" lengthAdjust="spacingAndGlyphs"  stroke="#000" stroke-width="0.45" stroke-linejoin="round">−5</text>
<text x="383.34" y="91.20" font-family="Liberation Sans" font-size="15.6" font-weight="bold" fill="#000" textLength="18.06" lengthAdjust="spacingAndGlyphs"  stroke="#000" stroke-width="0.45" stroke-linejoin="round">10</text>
<text x="400.77" y="109.55" font-family="Liberation Sans" font-size="10.8" font-weight="bold" fill="#000" textLength="12.93" lengthAdjust="spacingAndGlyphs"  stroke="#000" stroke-width="0.45" stroke-linejoin="round">−6</text>
<text x="383.45" y="115.55" font-family="Liberation Sans" font-size="15.6" font-weight="bold" fill="#000" textLength="18.06" lengthAdjust="spacingAndGlyphs"  stroke="#000" stroke-width="0.45" stroke-linejoin="round">10</text>
<text x="400.83" y="133.90" font-family="Liberation Sans" font-size="10.8" font-weight="bold" fill="#000" textLength="12.93" lengthAdjust="spacingAndGlyphs"  stroke="#000" stroke-width="0.45" stroke-linejoin="round">−7</text>
<text x="383.51" y="139.90" font-family="Liberation Sans" font-size="15.6" font-weight="bold" fill="#000" textLength="18.06" lengthAdjust="spacingAndGlyphs"  stroke="#000" stroke-width="0.45" stroke-linejoin="round">10</text>
<text x="400.71" y="158.25" font-family="Liberation Sans" font-size="10.8" font-weight="bold" fill="#000" textLength="12.93" lengthAdjust="spacingAndGlyphs"  stroke="#000" stroke-width="0.45" stroke-linejoin="round">−8</text>
<text x="383.39" y="164.25" font-family="Liberation Sans" font-size="15.6" font-weight="bold" fill="#000" textLength="18.06" lengthAdjust="spacingAndGlyphs"  stroke="#000" stroke-width="0.45" stroke-linejoin="round">10</text>
<text x="400.77" y="182.60" font-family="Liberation Sans" font-size="10.8" font-weight="bold" fill="#000" textLength="12.93" lengthAdjust="spacingAndGlyphs"  stroke="#000" stroke-width="0.45" stroke-linejoin="round">−9</text>
<text x="383.45" y="188.60" font-family="Liberation Sans" font-size="15.6" font-weight="bold" fill="#000" textLength="18.06" lengthAdjust="spacingAndGlyphs"  stroke="#000" stroke-width="0.45" stroke-linejoin="round">10</text>
<text x="394.53" y="206.95" font-family="Liberation Sans" font-size="10.8" font-weight="bold" fill="#000" textLength="19.24" lengthAdjust="spacingAndGlyphs"  stroke="#000" stroke-width="0.45" stroke-linejoin="round">−10</text>
<text x="377.21" y="212.95" font-family="Liberation Sans" font-size="15.6" font-weight="bold" fill="#000" textLength="18.06" lengthAdjust="spacingAndGlyphs"  stroke="#000" stroke-width="0.45" stroke-linejoin="round">10</text>
<text x="394.99" y="231.30" font-family="Liberation Sans" font-size="10.8" font-weight="bold" fill="#000" textLength="18.61" lengthAdjust="spacingAndGlyphs"  stroke="#000" stroke-width="0.45" stroke-linejoin="round">−11</text>
<text x="377.67" y="237.30" font-family="Liberation Sans" font-size="15.6" font-weight="bold" fill="#000" textLength="18.06" lengthAdjust="spacingAndGlyphs"  stroke="#000" stroke-width="0.45" stroke-linejoin="round">10</text>
<text x="408.14" y="265.00" font-family="Liberation Sans" font-size="15" font-weight="bold" fill="#000" textLength="19.15" lengthAdjust="spacingAndGlyphs"  stroke="#000" stroke-width="0.45" stroke-linejoin="round">−8</text>
<text x="437.47" y="265.00" font-family="Liberation Sans" font-size="15" font-weight="bold" fill="#000" textLength="19.15" lengthAdjust="spacingAndGlyphs"  stroke="#000" stroke-width="0.45" stroke-linejoin="round">−7</text>
<text x="466.68" y="265.00" font-family="Liberation Sans" font-size="15" font-weight="bold" fill="#000" textLength="19.15" lengthAdjust="spacingAndGlyphs"  stroke="#000" stroke-width="0.45" stroke-linejoin="round">−6</text>
<text x="495.85" y="265.00" font-family="Liberation Sans" font-size="15" font-weight="bold" fill="#000" textLength="19.15" lengthAdjust="spacingAndGlyphs"  stroke="#000" stroke-width="0.45" stroke-linejoin="round">−5</text>
<text x="524.93" y="265.00" font-family="Liberation Sans" font-size="15" font-weight="bold" fill="#000" textLength="19.15" lengthAdjust="spacingAndGlyphs"  stroke="#000" stroke-width="0.45" stroke-linejoin="round">−4</text>
<text x="554.43" y="265.00" font-family="Liberation Sans" font-size="15" font-weight="bold" fill="#000" textLength="19.15" lengthAdjust="spacingAndGlyphs"  stroke="#000" stroke-width="0.45" stroke-linejoin="round">−3</text>
<text x="583.72" y="265.00" font-family="Liberation Sans" font-size="15" font-weight="bold" fill="#000" textLength="19.15" lengthAdjust="spacingAndGlyphs"  stroke="#000" stroke-width="0.45" stroke-linejoin="round">−2</text>
<text x="612.85" y="265.00" font-family="Liberation Sans" font-size="15" font-weight="bold" fill="#000" textLength="19.15" lengthAdjust="spacingAndGlyphs"  stroke="#000" stroke-width="0.45" stroke-linejoin="round">−1</text>
<text x="647.22" y="265.00" font-family="Liberation Sans" font-size="15" font-weight="bold" fill="#000" textLength="9.18" lengthAdjust="spacingAndGlyphs"  stroke="#000" stroke-width="0.45" stroke-linejoin="round">0</text>
<text x="676.18" y="265.00" font-family="Liberation Sans" font-size="15" font-weight="bold" fill="#000" textLength="9.18" lengthAdjust="spacingAndGlyphs"  stroke="#000" stroke-width="0.45" stroke-linejoin="round">1</text>
<text x="508.72" y="289.00" font-family="Liberation Sans" font-size="14.5" font-weight="bold" fill="#000" textLength="81.04" lengthAdjust="spacingAndGlyphs"  stroke="#000" stroke-width="0.45" stroke-linejoin="round">Voltage (V)</text>
<text transform="translate(371.30,184.63) rotate(-90)" x="0" y="0" font-family="Liberation Sans" font-size="14.5" font-weight="bold" fill="#000" textLength="83.18" lengthAdjust="spacingAndGlyphs"  stroke="#000" stroke-width="0.45" stroke-linejoin="round">Current (A)</text>
<text x="454.95" y="199.20" font-family="Liberation Sans" font-size="13.4" font-weight="bold" fill="#000" textLength="78.75" lengthAdjust="spacingAndGlyphs"  stroke="#000" stroke-width="0.45" stroke-linejoin="round">Accelerated</text>
<text x="454.84" y="215.50" font-family="Liberation Sans" font-size="13.4" font-weight="bold" fill="#000" textLength="38.40" lengthAdjust="spacingAndGlyphs"  stroke="#000" stroke-width="0.45" stroke-linejoin="round">stress</text>
<text x="572.34" y="204.40" font-family="Liberation Sans" font-size="13.4" font-weight="bold" fill="#000" textLength="66.62" lengthAdjust="spacingAndGlyphs"  stroke="#000" stroke-width="0.45" stroke-linejoin="round">Operating</text>
<text x="574.34" y="220.10" font-family="Liberation Sans" font-size="13.4" font-weight="bold" fill="#000" textLength="62.68" lengthAdjust="spacingAndGlyphs"  stroke="#000" stroke-width="0.45" stroke-linejoin="round">condition</text>
<text x="0.66" y="314.90" font-family="Liberation Sans" font-size="20.6" font-weight="normal" fill="#000" textLength="7.42" lengthAdjust="spacingAndGlyphs"  stroke="#000" stroke-width="0.6" stroke-linejoin="round">(</text>
<text x="8.50" y="314.90" font-family="Liberation Sans" font-size="20.6" font-weight="bold" fill="#000" textLength="11.12" lengthAdjust="spacingAndGlyphs" >c</text>
<text x="19.18" y="314.90" font-family="Liberation Sans" font-size="20.6" font-weight="normal" fill="#000" textLength="7.67" lengthAdjust="spacingAndGlyphs"  stroke="#000" stroke-width="0.6" stroke-linejoin="round">)</text>
<rect x="99.70" y="312.60" width="57.70" height="17.50" fill="#000"/>
<rect x="97.20" y="310.10" width="57.70" height="17.50" fill="#fff" stroke="#222" stroke-width="1"/>
<text x="106.01" y="323.70" font-family="Liberation Sans" font-size="12.3" font-weight="bold" fill="#000" textLength="39.95" lengthAdjust="spacingAndGlyphs"  stroke="#000" stroke-width="0.45" stroke-linejoin="round">Stress</text>
<rect x="233.10" y="312.50" width="70.10" height="17.30" fill="#000"/>
<rect x="230.60" y="310.00" width="70.10" height="17.30" fill="#fff" stroke="#222" stroke-width="1"/>
<text x="232.24" y="323.60" font-family="Liberation Sans" font-size="12.3" font-weight="bold" fill="#000" textLength="66.78" lengthAdjust="spacingAndGlyphs"  stroke="#000" stroke-width="0.45" stroke-linejoin="round">Relaxation</text>
<rect x="61.30" y="333.00" width="130.70" height="210.00" fill="none" stroke="#000" stroke-width="1.5"/>
<line x1="61.30" y1="539.18" x2="63.30" y2="539.18" stroke="#000" stroke-width="1.0" />
<line x1="61.30" y1="534.32" x2="63.30" y2="534.32" stroke="#000" stroke-width="1.0" />
<line x1="61.30" y1="530.03" x2="63.30" y2="530.03" stroke="#000" stroke-width="1.0" />
<line x1="61.30" y1="526.20" x2="65.30" y2="526.20" stroke="#000" stroke-width="1.0" />
<line x1="61.30" y1="500.97" x2="63.30" y2="500.97" stroke="#000" stroke-width="1.0" />
<line x1="61.30" y1="486.22" x2="63.30" y2="486.22" stroke="#000" stroke-width="1.0" />
<line x1="61.30" y1="475.75" x2="63.30" y2="475.75" stroke="#000" stroke-width="1.0" />
<line x1="61.30" y1="467.63" x2="63.30" y2="467.63" stroke="#000" stroke-width="1.0" />
<line x1="61.30" y1="460.99" x2="63.30" y2="460.99" stroke="#000" stroke-width="1.0" />
<line x1="61.30" y1="455.38" x2="63.30" y2="455.38" stroke="#000" stroke-width="1.0" />
<line x1="61.30" y1="450.52" x2="63.30" y2="450.52" stroke="#000" stroke-width="1.0" />
<line x1="61.30" y1="446.23" x2="63.30" y2="446.23" stroke="#000" stroke-width="1.0" />
<line x1="61.30" y1="442.40" x2="65.30" y2="442.40" stroke="#000" stroke-width="1.0" />
<line x1="61.30" y1="417.17" x2="63.30" y2="417.17" stroke="#000" stroke-width="1.0" />
<line x1="61.30" y1="402.42" x2="63.30" y2="402.42" stroke="#000" stroke-width="1.0" />
<line x1="61.30" y1="391.95" x2="63.30" y2="391.95" stroke="#000" stroke-width="1.0" />
<line x1="61.30" y1="383.83" x2="63.30" y2="383.83" stroke="#000" stroke-width="1.0" />
<line x1="61.30" y1="377.19" x2="63.30" y2="377.19" stroke="#000" stroke-width="1.0" />
<line x1="61.30" y1="371.58" x2="63.30" y2="371.58" stroke="#000" stroke-width="1.0" />
<line x1="61.30" y1="366.72" x2="63.30" y2="366.72" stroke="#000" stroke-width="1.0" />
<line x1="61.30" y1="362.43" x2="63.30" y2="362.43" stroke="#000" stroke-width="1.0" />
<line x1="61.30" y1="358.60" x2="65.30" y2="358.60" stroke="#000" stroke-width="1.0" />
<line x1="61.30" y1="333.37" x2="63.30" y2="333.37" stroke="#000" stroke-width="1.0" />
<line x1="192.00" y1="539.18" x2="190.00" y2="539.18" stroke="#000" stroke-width="1.0" />
<line x1="192.00" y1="534.32" x2="190.00" y2="534.32" stroke="#000" stroke-width="1.0" />
<line x1="192.00" y1="530.03" x2="190.00" y2="530.03" stroke="#000" stroke-width="1.0" />
<line x1="192.00" y1="526.20" x2="188.00" y2="526.20" stroke="#000" stroke-width="1.0" />
<line x1="192.00" y1="500.97" x2="190.00" y2="500.97" stroke="#000" stroke-width="1.0" />
<line x1="192.00" y1="486.22" x2="190.00" y2="486.22" stroke="#000" stroke-width="1.0" />
<line x1="192.00" y1="475.75" x2="190.00" y2="475.75" stroke="#000" stroke-width="1.0" />
<line x1="192.00" y1="467.63" x2="190.00" y2="467.63" stroke="#000" stroke-width="1.0" />
<line x1="192.00" y1="460.99" x2="190.00" y2="460.99" stroke="#000" stroke-width="1.0" />
<line x1="192.00" y1="455.38" x2="190.00" y2="455.38" stroke="#000" stroke-width="1.0" />
<line x1="192.00" y1="450.52" x2="190.00" y2="450.52" stroke="#000" stroke-width="1.0" />
<line x1="192.00" y1="446.23" x2="190.00" y2="446.23" stroke="#000" stroke-width="1.0" />
<line x1="192.00" y1="442.40" x2="188.00" y2="442.40" stroke="#000" stroke-width="1.0" />
<line x1="192.00" y1="417.17" x2="190.00" y2="417.17" stroke="#000" stroke-width="1.0" />
<line x1="192.00" y1="402.42" x2="190.00" y2="402.42" stroke="#000" stroke-width="1.0" />
<line x1="192.00" y1="391.95" x2="190.00" y2="391.95" stroke="#000" stroke-width="1.0" />
<line x1="192.00" y1="383.83" x2="190.00" y2="383.83" stroke="#000" stroke-width="1.0" />
<line x1="192.00" y1="377.19" x2="190.00" y2="377.19" stroke="#000" stroke-width="1.0" />
<line x1="192.00" y1="371.58" x2="190.00" y2="371.58" stroke="#000" stroke-width="1.0" />
<line x1="192.00" y1="366.72" x2="190.00" y2="366.72" stroke="#000" stroke-width="1.0" />
<line x1="192.00" y1="362.43" x2="190.00" y2="362.43" stroke="#000" stroke-width="1.0" />
<line x1="192.00" y1="358.60" x2="188.00" y2="358.60" stroke="#000" stroke-width="1.0" />
<line x1="192.00" y1="333.37" x2="190.00" y2="333.37" stroke="#000" stroke-width="1.0" />
<rect x="200.20" y="333.00" width="130.60" height="210.00" fill="none" stroke="#000" stroke-width="1.5"/>
<line x1="200.20" y1="539.18" x2="202.20" y2="539.18" stroke="#000" stroke-width="1.0" />
<line x1="200.20" y1="534.32" x2="202.20" y2="534.32" stroke="#000" stroke-width="1.0" />
<line x1="200.20" y1="530.03" x2="202.20" y2="530.03" stroke="#000" stroke-width="1.0" />
<line x1="200.20" y1="526.20" x2="204.20" y2="526.20" stroke="#000" stroke-width="1.0" />
<line x1="200.20" y1="500.97" x2="202.20" y2="500.97" stroke="#000" stroke-width="1.0" />
<line x1="200.20" y1="486.22" x2="202.20" y2="486.22" stroke="#000" stroke-width="1.0" />
<line x1="200.20" y1="475.75" x2="202.20" y2="475.75" stroke="#000" stroke-width="1.0" />
<line x1="200.20" y1="467.63" x2="202.20" y2="467.63" stroke="#000" stroke-width="1.0" />
<line x1="200.20" y1="460.99" x2="202.20" y2="460.99" stroke="#000" stroke-width="1.0" />
<line x1="200.20" y1="455.38" x2="202.20" y2="455.38" stroke="#000" stroke-width="1.0" />
<line x1="200.20" y1="450.52" x2="202.20" y2="450.52" stroke="#000" stroke-width="1.0" />
<line x1="200.20" y1="446.23" x2="202.20" y2="446.23" stroke="#000" stroke-width="1.0" />
<line x1="200.20" y1="442.40" x2="204.20" y2="442.40" stroke="#000" stroke-width="1.0" />
<line x1="200.20" y1="417.17" x2="202.20" y2="417.17" stroke="#000" stroke-width="1.0" />
<line x1="200.20" y1="402.42" x2="202.20" y2="402.42" stroke="#000" stroke-width="1.0" />
<line x1="200.20" y1="391.95" x2="202.20" y2="391.95" stroke="#000" stroke-width="1.0" />
<line x1="200.20" y1="383.83" x2="202.20" y2="383.83" stroke="#000" stroke-width="1.0" />
<line x1="200.20" y1="377.19" x2="202.20" y2="377.19" stroke="#000" stroke-width="1.0" />
<line x1="200.20" y1="371.58" x2="202.20" y2="371.58" stroke="#000" stroke-width="1.0" />
<line x1="200.20" y1="366.72" x2="202.20" y2="366.72" stroke="#000" stroke-width="1.0" />
<line x1="200.20" y1="362.43" x2="202.20" y2="362.43" stroke="#000" stroke-width="1.0" />
<line x1="200.20" y1="358.60" x2="204.20" y2="358.60" stroke="#000" stroke-width="1.0" />
<line x1="200.20" y1="333.37" x2="202.20" y2="333.37" stroke="#000" stroke-width="1.0" />
<line x1="330.80" y1="539.18" x2="328.80" y2="539.18" stroke="#000" stroke-width="1.0" />
<line x1="330.80" y1="534.32" x2="328.80" y2="534.32" stroke="#000" stroke-width="1.0" />
<line x1="330.80" y1="530.03" x2="328.80" y2="530.03" stroke="#000" stroke-width="1.0" />
<line x1="330.80" y1="526.20" x2="326.80" y2="526.20" stroke="#000" stroke-width="1.0" />
<line x1="330.80" y1="500.97" x2="328.80" y2="500.97" stroke="#000" stroke-width="1.0" />
<line x1="330.80" y1="486.22" x2="328.80" y2="486.22" stroke="#000" stroke-width="1.0" />
<line x1="330.80" y1="475.75" x2="328.80" y2="475.75" stroke="#000" stroke-width="1.0" />
<line x1="330.80" y1="467.63" x2="328.80" y2="467.63" stroke="#000" stroke-width="1.0" />
<line x1="330.80" y1="460.99" x2="328.80" y2="460.99" stroke="#000" stroke-width="1.0" />
<line x1="330.80" y1="455.38" x2="328.80" y2="455.38" stroke="#000" stroke-width="1.0" />
<line x1="330.80" y1="450.52" x2="328.80" y2="450.52" stroke="#000" stroke-width="1.0" />
<line x1="330.80" y1="446.23" x2="328.80" y2="446.23" stroke="#000" stroke-width="1.0" />
<line x1="330.80" y1="442.40" x2="326.80" y2="442.40" stroke="#000" stroke-width="1.0" />
<line x1="330.80" y1="417.17" x2="328.80" y2="417.17" stroke="#000" stroke-width="1.0" />
<line x1="330.80" y1="402.42" x2="328.80" y2="402.42" stroke="#000" stroke-width="1.0" />
<line x1="330.80" y1="391.95" x2="328.80" y2="391.95" stroke="#000" stroke-width="1.0" />
<line x1="330.80" y1="383.83" x2="328.80" y2="383.83" stroke="#000" stroke-width="1.0" />
<line x1="330.80" y1="377.19" x2="328.80" y2="377.19" stroke="#000" stroke-width="1.0" />
<line x1="330.80" y1="371.58" x2="328.80" y2="371.58" stroke="#000" stroke-width="1.0" />
<line x1="330.80" y1="366.72" x2="328.80" y2="366.72" stroke="#000" stroke-width="1.0" />
<line x1="330.80" y1="362.43" x2="328.80" y2="362.43" stroke="#000" stroke-width="1.0" />
<line x1="330.80" y1="358.60" x2="326.80" y2="358.60" stroke="#000" stroke-width="1.0" />
<line x1="330.80" y1="333.37" x2="328.80" y2="333.37" stroke="#000" stroke-width="1.0" />
<line x1="62.71" y1="543.00" x2="62.71" y2="541.00" stroke="#000" stroke-width="1.0" />
<line x1="65.18" y1="543.00" x2="65.18" y2="541.00" stroke="#000" stroke-width="1.0" />
<line x1="67.32" y1="543.00" x2="67.32" y2="541.00" stroke="#000" stroke-width="1.0" />
<line x1="69.21" y1="543.00" x2="69.21" y2="541.00" stroke="#000" stroke-width="1.0" />
<line x1="70.90" y1="543.00" x2="70.90" y2="539.00" stroke="#000" stroke-width="1.0" />
<line x1="82.01" y1="543.00" x2="82.01" y2="541.00" stroke="#000" stroke-width="1.0" />
<line x1="88.51" y1="543.00" x2="88.51" y2="541.00" stroke="#000" stroke-width="1.0" />
<line x1="93.12" y1="543.00" x2="93.12" y2="541.00" stroke="#000" stroke-width="1.0" />
<line x1="96.69" y1="543.00" x2="96.69" y2="541.00" stroke="#000" stroke-width="1.0" />
<line x1="99.61" y1="543.00" x2="99.61" y2="541.00" stroke="#000" stroke-width="1.0" />
<line x1="102.08" y1="543.00" x2="102.08" y2="541.00" stroke="#000" stroke-width="1.0" />
<line x1="104.22" y1="543.00" x2="104.22" y2="541.00" stroke="#000" stroke-width="1.0" />
<line x1="106.11" y1="543.00" x2="106.11" y2="541.00" stroke="#000" stroke-width="1.0" />
<line x1="107.80" y1="543.00" x2="107.80" y2="539.00" stroke="#000" stroke-width="1.0" />
<line x1="118.91" y1="543.00" x2="118.91" y2="541.00" stroke="#000" stroke-width="1.0" />
<line x1="125.41" y1="543.00" x2="125.41" y2="541.00" stroke="#000" stroke-width="1.0" />
<line x1="130.02" y1="543.00" x2="130.02" y2="541.00" stroke="#000" stroke-width="1.0" />
<line x1="133.59" y1="543.00" x2="133.59" y2="541.00" stroke="#000" stroke-width="1.0" />
<line x1="136.51" y1="543.00" x2="136.51" y2="541.00" stroke="#000" stroke-width="1.0" />
<line x1="138.98" y1="543.00" x2="138.98" y2="541.00" stroke="#000" stroke-width="1.0" />
<line x1="141.12" y1="543.00" x2="141.12" y2="541.00" stroke="#000" stroke-width="1.0" />
<line x1="143.01" y1="543.00" x2="143.01" y2="541.00" stroke="#000" stroke-width="1.0" />
<line x1="144.70" y1="543.00" x2="144.70" y2="539.00" stroke="#000" stroke-width="1.0" />
<line x1="155.81" y1="543.00" x2="155.81" y2="541.00" stroke="#000" stroke-width="1.0" />
<line x1="162.31" y1="543.00" x2="162.31" y2="541.00" stroke="#000" stroke-width="1.0" />
<line x1="166.92" y1="543.00" x2="166.92" y2="541.00" stroke="#000" stroke-width="1.0" />
<line x1="170.49" y1="543.00" x2="170.49" y2="541.00" stroke="#000" stroke-width="1.0" />
<line x1="173.41" y1="543.00" x2="173.41" y2="541.00" stroke="#000" stroke-width="1.0" />
<line x1="175.88" y1="543.00" x2="175.88" y2="541.00" stroke="#000" stroke-width="1.0" />
<line x1="178.02" y1="543.00" x2="178.02" y2="541.00" stroke="#000" stroke-width="1.0" />
<line x1="179.91" y1="543.00" x2="179.91" y2="541.00" stroke="#000" stroke-width="1.0" />
<line x1="181.60" y1="543.00" x2="181.60" y2="539.00" stroke="#000" stroke-width="1.0" />
<line x1="202.14" y1="543.00" x2="202.14" y2="541.00" stroke="#000" stroke-width="1.0" />
<line x1="204.60" y1="543.00" x2="204.60" y2="541.00" stroke="#000" stroke-width="1.0" />
<line x1="206.73" y1="543.00" x2="206.73" y2="541.00" stroke="#000" stroke-width="1.0" />
<line x1="208.62" y1="543.00" x2="208.62" y2="541.00" stroke="#000" stroke-width="1.0" />
<line x1="210.30" y1="543.00" x2="210.30" y2="539.00" stroke="#000" stroke-width="1.0" />
<line x1="221.38" y1="543.00" x2="221.38" y2="541.00" stroke="#000" stroke-width="1.0" />
<line x1="227.86" y1="543.00" x2="227.86" y2="541.00" stroke="#000" stroke-width="1.0" />
<line x1="232.46" y1="543.00" x2="232.46" y2="541.00" stroke="#000" stroke-width="1.0" />
<line x1="236.02" y1="543.00" x2="236.02" y2="541.00" stroke="#000" stroke-width="1.0" />
<line x1="238.94" y1="543.00" x2="238.94" y2="541.00" stroke="#000" stroke-width="1.0" />
<line x1="241.40" y1="543.00" x2="241.40" y2="541.00" stroke="#000" stroke-width="1.0" />
<line x1="243.53" y1="543.00" x2="243.53" y2="541.00" stroke="#000" stroke-width="1.0" />
<line x1="245.42" y1="543.00" x2="245.42" y2="541.00" stroke="#000" stroke-width="1.0" />
<line x1="247.10" y1="543.00" x2="247.10" y2="539.00" stroke="#000" stroke-width="1.0" />
<line x1="258.18" y1="543.00" x2="258.18" y2="541.00" stroke="#000" stroke-width="1.0" />
<line x1="264.66" y1="543.00" x2="264.66" y2="541.00" stroke="#000" stroke-width="1.0" />
<line x1="269.26" y1="543.00" x2="269.26" y2="541.00" stroke="#000" stroke-width="1.0" />
<line x1="272.82" y1="543.00" x2="272.82" y2="541.00" stroke="#000" stroke-width="1.0" />
<line x1="275.74" y1="543.00" x2="275.74" y2="541.00" stroke="#000" stroke-width="1.0" />
<line x1="278.20" y1="543.00" x2="278.20" y2="541.00" stroke="#000" stroke-width="1.0" />
<line x1="280.33" y1="543.00" x2="280.33" y2="541.00" stroke="#000" stroke-width="1.0" />
<line x1="282.22" y1="543.00" x2="282.22" y2="541.00" stroke="#000" stroke-width="1.0" />
<line x1="283.90" y1="543.00" x2="283.90" y2="539.00" stroke="#000" stroke-width="1.0" />
<line x1="294.98" y1="543.00" x2="294.98" y2="541.00" stroke="#000" stroke-width="1.0" />
<line x1="301.46" y1="543.00" x2="301.46" y2="541.00" stroke="#000" stroke-width="1.0" />
<line x1="306.06" y1="543.00" x2="306.06" y2="541.00" stroke="#000" stroke-width="1.0" />
<line x1="309.62" y1="543.00" x2="309.62" y2="541.00" stroke="#000" stroke-width="1.0" />
<line x1="312.54" y1="543.00" x2="312.54" y2="541.00" stroke="#000" stroke-width="1.0" />
<line x1="315.00" y1="543.00" x2="315.00" y2="541.00" stroke="#000" stroke-width="1.0" />
<line x1="317.13" y1="543.00" x2="317.13" y2="541.00" stroke="#000" stroke-width="1.0" />
<line x1="319.02" y1="543.00" x2="319.02" y2="541.00" stroke="#000" stroke-width="1.0" />
<line x1="320.70" y1="543.00" x2="320.70" y2="539.00" stroke="#000" stroke-width="1.0" />
<text x="45.03" y="358.10" font-family="Liberation Sans" font-size="10.8" font-weight="bold" fill="#000" textLength="12.93" lengthAdjust="spacingAndGlyphs"  stroke="#000" stroke-width="0.45" stroke-linejoin="round">−7</text>
<text x="27.71" y="364.10" font-family="Liberation Sans" font-size="15.6" font-weight="bold" fill="#000" textLength="18.06" lengthAdjust="spacingAndGlyphs"  stroke="#000" stroke-width="0.45" stroke-linejoin="round">10</text>
<text x="44.91" y="441.90" font-family="Liberation Sans" font-size="10.8" font-weight="bold" fill="#000" textLength="12.93" lengthAdjust="spacingAndGlyphs"  stroke="#000" stroke-width="0.45" stroke-linejoin="round">−8</text>
<text x="27.59" y="447.90" font-family="Liberation Sans" font-size="15.6" font-weight="bold" fill="#000" textLength="18.06" lengthAdjust="spacingAndGlyphs"  stroke="#000" stroke-width="0.45" stroke-linejoin="round">10</text>
<text x="44.97" y="525.70" font-family="Liberation Sans" font-size="10.8" font-weight="bold" fill="#000" textLength="12.93" lengthAdjust="spacingAndGlyphs"  stroke="#000" stroke-width="0.45" stroke-linejoin="round">−9</text>
<text x="27.65" y="531.70" font-family="Liberation Sans" font-size="15.6" font-weight="bold" fill="#000" textLength="18.06" lengthAdjust="spacingAndGlyphs"  stroke="#000" stroke-width="0.45" stroke-linejoin="round">10</text>
<text x="58.48" y="563.50" font-family="Liberation Sans" font-size="15.6" font-weight="bold" fill="#000" textLength="18.06" lengthAdjust="spacingAndGlyphs"  stroke="#000" stroke-width="0.45" stroke-linejoin="round">10</text>
<text x="75.90" y="557.50" font-family="Liberation Sans" font-size="10.8" font-weight="bold" fill="#000" textLength="6.31" lengthAdjust="spacingAndGlyphs"  stroke="#000" stroke-width="0.45" stroke-linejoin="round">0</text>
<text x="198.68" y="563.50" font-family="Liberation Sans" font-size="15.6" font-weight="bold" fill="#000" textLength="18.06" lengthAdjust="spacingAndGlyphs"  stroke="#000" stroke-width="0.45" stroke-linejoin="round">10</text>
<text x="216.10" y="557.50" font-family="Liberation Sans" font-size="10.8" font-weight="bold" fill="#000" textLength="6.31" lengthAdjust="spacingAndGlyphs"  stroke="#000" stroke-width="0.45" stroke-linejoin="round">0</text>
<text x="95.41" y="563.50" font-family="Liberation Sans" font-size="15.6" font-weight="bold" fill="#000" textLength="18.06" lengthAdjust="spacingAndGlyphs"  stroke="#000" stroke-width="0.45" stroke-linejoin="round">10</text>
<text x="112.60" y="557.50" font-family="Liberation Sans" font-size="10.8" font-weight="bold" fill="#000" textLength="6.31" lengthAdjust="spacingAndGlyphs"  stroke="#000" stroke-width="0.45" stroke-linejoin="round">1</text>
<text x="235.51" y="563.50" font-family="Liberation Sans" font-size="15.6" font-weight="bold" fill="#000" textLength="18.06" lengthAdjust="spacingAndGlyphs"  stroke="#000" stroke-width="0.45" stroke-linejoin="round">10</text>
<text x="252.70" y="557.50" font-family="Liberation Sans" font-size="10.8" font-weight="bold" fill="#000" textLength="6.31" lengthAdjust="spacingAndGlyphs"  stroke="#000" stroke-width="0.45" stroke-linejoin="round">1</text>
<text x="132.25" y="563.50" font-family="Liberation Sans" font-size="15.6" font-weight="bold" fill="#000" textLength="18.06" lengthAdjust="spacingAndGlyphs"  stroke="#000" stroke-width="0.45" stroke-linejoin="round">10</text>
<text x="149.73" y="557.50" font-family="Liberation Sans" font-size="10.8" font-weight="bold" fill="#000" textLength="6.31" lengthAdjust="spacingAndGlyphs"  stroke="#000" stroke-width="0.45" stroke-linejoin="round">2</text>
<text x="272.25" y="563.50" font-family="Liberation Sans" font-size="15.6" font-weight="bold" fill="#000" textLength="18.06" lengthAdjust="spacingAndGlyphs"  stroke="#000" stroke-width="0.45" stroke-linejoin="round">10</text>
<text x="289.73" y="557.50" font-family="Liberation Sans" font-size="10.8" font-weight="bold" fill="#000" textLength="6.31" lengthAdjust="spacingAndGlyphs"  stroke="#000" stroke-width="0.45" stroke-linejoin="round">2</text>
<text x="169.07" y="563.50" font-family="Liberation Sans" font-size="15.6" font-weight="bold" fill="#000" textLength="18.06" lengthAdjust="spacingAndGlyphs"  stroke="#000" stroke-width="0.45" stroke-linejoin="round">10</text>
<text x="186.66" y="557.50" font-family="Liberation Sans" font-size="10.8" font-weight="bold" fill="#000" textLength="6.31" lengthAdjust="spacingAndGlyphs"  stroke="#000" stroke-width="0.45" stroke-linejoin="round">3</text>
<text x="308.97" y="563.50" font-family="Liberation Sans" font-size="15.6" font-weight="bold" fill="#000" textLength="18.06" lengthAdjust="spacingAndGlyphs"  stroke="#000" stroke-width="0.45" stroke-linejoin="round">10</text>
<text x="326.56" y="557.50" font-family="Liberation Sans" font-size="10.8" font-weight="bold" fill="#000" textLength="6.31" lengthAdjust="spacingAndGlyphs"  stroke="#000" stroke-width="0.45" stroke-linejoin="round">3</text>
<text x="102.22" y="585.70" font-family="Liberation Sans" font-size="14.5" font-weight="bold" fill="#000" textLength="6.12" lengthAdjust="spacingAndGlyphs"  stroke="#000" stroke-width="0.45" stroke-linejoin="round">t</text>
<text x="107.93" y="590.40" font-family="Liberation Sans" font-size="12" font-weight="bold" fill="#000" textLength="30.91" lengthAdjust="spacingAndGlyphs"  stroke="#000" stroke-width="0.45" stroke-linejoin="round">stress</text>
<text x="142.80" y="588.00" font-family="Liberation Sans" font-size="16.5" font-weight="bold" fill="#000" textLength="19.66" lengthAdjust="spacingAndGlyphs"  stroke="#000" stroke-width="0.45" stroke-linejoin="round">(s)</text>
<text x="244.12" y="585.70" font-family="Liberation Sans" font-size="14.5" font-weight="bold" fill="#000" textLength="6.12" lengthAdjust="spacingAndGlyphs"  stroke="#000" stroke-width="0.45" stroke-linejoin="round">t</text>
<text x="248.81" y="590.40" font-family="Liberation Sans" font-size="12" font-weight="bold" fill="#000" textLength="24.95" lengthAdjust="spacingAndGlyphs"  stroke="#000" stroke-width="0.45" stroke-linejoin="round">relax</text>
<text x="278.10" y="588.00" font-family="Liberation Sans" font-size="16.5" font-weight="bold" fill="#000" textLength="19.56" lengthAdjust="spacingAndGlyphs"  stroke="#000" stroke-width="0.45" stroke-linejoin="round">(s)</text>
<rect x="9.5" y="526.6" width="15.5" height="1.5" fill="#111"/>
<text transform="translate(22.20,521.38) rotate(-90)" x="0" y="0" font-family="Liberation Sans" font-size="18" font-weight="bold" fill="#000" textLength="33.36" lengthAdjust="spacingAndGlyphs"  stroke="#000" stroke-width="0.45" stroke-linejoin="round">Dark</text>
<text transform="translate(22.20,483.03) rotate(-90)" x="0" y="0" font-family="Liberation Sans" font-size="17.5" font-weight="bold" fill="#000" textLength="54.27" lengthAdjust="spacingAndGlyphs"  stroke="#000" stroke-width="0.45" stroke-linejoin="round">current</text>
<rect x="10" y="422.7" width="15.3" height="1.5" fill="#111"/>
<text transform="translate(22.50,415.80) rotate(-90)" x="0" y="0" font-family="Liberation Sans" font-size="17.4" font-weight="bold" fill="#000" textLength="14.20" lengthAdjust="spacingAndGlyphs"  stroke="#000" stroke-width="0.45" stroke-linejoin="round">@</text>
<text transform="translate(22.80,397.15) rotate(-90)" x="0" y="0" font-family="Liberation Sans" font-size="17.6" font-weight="bold" fill="#000" textLength="25.25" lengthAdjust="spacingAndGlyphs"  stroke="#000" stroke-width="0.45" stroke-linejoin="round">-1V</text>
<text transform="translate(22.50,368.58) rotate(-90)" x="0" y="0" font-family="Liberation Sans" font-size="17.3" font-weight="bold" fill="#000" textLength="21.74" lengthAdjust="spacingAndGlyphs"  stroke="#000" stroke-width="0.45" stroke-linejoin="round">(A)</text>
<rect x="67.30" y="336.40" width="66.40" height="29.90" fill="none" stroke="#555" stroke-width="1.0"/>
<circle cx="81.60" cy="344.40" r="4.3" fill="#00f"/>
<circle cx="81.60" cy="358.30" r="4.1" fill="#000"/>
<text x="95.52" y="348.10" font-family="Liberation Sans" font-size="10.5" font-weight="bold" fill="#000" textLength="36.46" lengthAdjust="spacingAndGlyphs"  stroke="#000" stroke-width="0.45" stroke-linejoin="round">A-UVO</text>
<text x="95.76" y="361.20" font-family="Liberation Sans" font-size="10.5" font-weight="bold" fill="#000" textLength="36.46" lengthAdjust="spacingAndGlyphs"  stroke="#000" stroke-width="0.45" stroke-linejoin="round">B-BOE</text>
<circle cx="70.90" cy="458.90" r="4.2" fill="#0000ff"/>
<circle cx="70.90" cy="513.90" r="4.2" fill="#000"/>
<circle cx="81.40" cy="460.20" r="4.2" fill="#0000ff"/>
<circle cx="81.40" cy="511.70" r="4.2" fill="#000"/>
<circle cx="92.90" cy="461.60" r="4.2" fill="#0000ff"/>
<circle cx="92.90" cy="506.40" r="4.2" fill="#000"/>
<circle cx="108.00" cy="459.70" r="4.2" fill="#0000ff"/>
<circle cx="108.00" cy="501.00" r="4.2" fill="#000"/>
<circle cx="120.40" cy="457.50" r="4.2" fill="#0000ff"/>
<circle cx="120.40" cy="494.60" r="4.2" fill="#000"/>
<circle cx="132.80" cy="456.70" r="4.2" fill="#0000ff"/>
<circle cx="132.80" cy="494.00" r="4.2" fill="#000"/>
<circle cx="145.20" cy="455.30" r="4.2" fill="#0000ff"/>
<circle cx="145.20" cy="486.40" r="4.2" fill="#000"/>
<circle cx="157.30" cy="454.70" r="4.2" fill="#0000ff"/>
<circle cx="157.30" cy="483.60" r="4.2" fill="#000"/>
<circle cx="169.50" cy="454.20" r="4.2" fill="#0000ff"/>
<circle cx="169.50" cy="479.50" r="4.2" fill="#000"/>
<circle cx="182.40" cy="450.00" r="4.2" fill="#0000ff"/>
<circle cx="182.40" cy="475.40" r="4.2" fill="#000"/>
<rect x="67.95" y="381.55" width="5.9" height="5.9" fill="#fff" stroke="#0000ff" stroke-width="1.35"/>
<rect x="67.95" y="451.55" width="5.9" height="5.9" fill="#fff" stroke="#000" stroke-width="1.35"/>
<rect x="78.45" y="380.05" width="5.9" height="5.9" fill="#fff" stroke="#0000ff" stroke-width="1.35"/>
<rect x="78.45" y="449.05" width="5.9" height="5.9" fill="#fff" stroke="#000" stroke-width="1.35"/>
<rect x="89.95" y="378.55" width="5.9" height="5.9" fill="#fff" stroke="#0000ff" stroke-width="1.35"/>
<rect x="89.95" y="448.45" width="5.9" height="5.9" fill="#fff" stroke="#000" stroke-width="1.35"/>
<rect x="105.05" y="378.25" width="5.9" height="5.9" fill="#fff" stroke="#0000ff" stroke-width="1.35"/>
<rect x="105.05" y="444.55" width="5.9" height="5.9" fill="#fff" stroke="#000" stroke-width="1.35"/>
<rect x="117.45" y="377.55" width="5.9" height="5.9" fill="#fff" stroke="#0000ff" stroke-width="1.35"/>
<rect x="117.45" y="443.25" width="5.9" height="5.9" fill="#fff" stroke="#000" stroke-width="1.35"/>
<rect x="129.85" y="378.55" width="5.9" height="5.9" fill="#fff" stroke="#0000ff" stroke-width="1.35"/>
<rect x="129.85" y="442.05" width="5.9" height="5.9" fill="#fff" stroke="#000" stroke-width="1.35"/>
<rect x="142.25" y="372.65" width="5.9" height="5.9" fill="#fff" stroke="#0000ff" stroke-width="1.35"/>
<rect x="142.25" y="442.05" width="5.9" height="5.9" fill="#fff" stroke="#000" stroke-width="1.35"/>
<rect x="154.35" y="373.25" width="5.9" height="5.9" fill="#fff" stroke="#0000ff" stroke-width="1.35"/>
<rect x="154.35" y="440.65" width="5.9" height="5.9" fill="#fff" stroke="#000" stroke-width="1.35"/>
<rect x="166.55" y="371.65" width="5.9" height="5.9" fill="#fff" stroke="#0000ff" stroke-width="1.35"/>
<rect x="166.55" y="439.75" width="5.9" height="5.9" fill="#fff" stroke="#000" stroke-width="1.35"/>
<rect x="179.45" y="371.25" width="5.9" height="5.9" fill="#fff" stroke="#0000ff" stroke-width="1.35"/>
<rect x="179.45" y="439.35" width="5.9" height="5.9" fill="#fff" stroke="#000" stroke-width="1.35"/>
<circle cx="209.80" cy="452.50" r="4.2" fill="#0000ff"/>
<circle cx="209.80" cy="482.20" r="4.2" fill="#000"/>
<circle cx="220.70" cy="449.80" r="4.2" fill="#0000ff"/>
<circle cx="220.70" cy="484.20" r="4.2" fill="#000"/>
<circle cx="231.70" cy="451.40" r="4.2" fill="#0000ff"/>
<circle cx="231.70" cy="483.60" r="4.2" fill="#000"/>
<circle cx="246.40" cy="450.60" r="4.2" fill="#0000ff"/>
<circle cx="246.40" cy="482.20" r="4.2" fill="#000"/>
<circle cx="259.70" cy="451.40" r="4.2" fill="#0000ff"/>
<circle cx="259.70" cy="485.50" r="4.2" fill="#000"/>
<circle cx="271.70" cy="451.40" r="4.2" fill="#0000ff"/>
<circle cx="271.70" cy="485.80" r="4.2" fill="#000"/>
<circle cx="283.40" cy="451.40" r="4.2" fill="#0000ff"/>
<circle cx="283.40" cy="486.40" r="4.2" fill="#000"/>
<circle cx="296.20" cy="450.60" r="4.2" fill="#0000ff"/>
<circle cx="296.20" cy="486.40" r="4.2" fill="#000"/>
<circle cx="308.60" cy="449.80" r="4.2" fill="#0000ff"/>
<circle cx="308.60" cy="490.50" r="4.2" fill="#000"/>
<circle cx="321.20" cy="451.40" r="4.2" fill="#0000ff"/>
<circle cx="321.20" cy="491.90" r="4.2" fill="#000"/>
<rect x="206.85" y="372.55" width="5.9" height="5.9" fill="#fff" stroke="#0000ff" stroke-width="1.35"/>
<rect x="206.85" y="439.45" width="5.9" height="5.9" fill="#fff" stroke="#000" stroke-width="1.35"/>
<rect x="217.75" y="372.55" width="5.9" height="5.9" fill="#fff" stroke="#0000ff" stroke-width="1.35"/>
<rect x="217.75" y="440.25" width="5.9" height="5.9" fill="#fff" stroke="#000" stroke-width="1.35"/>
<rect x="228.75" y="372.55" width="5.9" height="5.9" fill="#fff" stroke="#0000ff" stroke-width="1.35"/>
<rect x="228.75" y="441.35" width="5.9" height="5.9" fill="#fff" stroke="#000" stroke-width="1.35"/>
<rect x="243.45" y="373.25" width="5.9" height="5.9" fill="#fff" stroke="#0000ff" stroke-width="1.35"/>
<rect x="243.45" y="440.75" width="5.9" height="5.9" fill="#fff" stroke="#000" stroke-width="1.35"/>
<rect x="256.75" y="373.75" width="5.9" height="5.9" fill="#fff" stroke="#0000ff" stroke-width="1.35"/>
<rect x="256.75" y="442.15" width="5.9" height="5.9" fill="#fff" stroke="#000" stroke-width="1.35"/>
<rect x="268.75" y="372.55" width="5.9" height="5.9" fill="#fff" stroke="#0000ff" stroke-width="1.35"/>
<rect x="268.75" y="442.15" width="5.9" height="5.9" fill="#fff" stroke="#000" stroke-width="1.35"/>
<rect x="280.45" y="372.05" width="5.9" height="5.9" fill="#fff" stroke="#0000ff" stroke-width="1.35"/>
<rect x="280.45" y="443.05" width="5.9" height="5.9" fill="#fff" stroke="#000" stroke-width="1.35"/>
<rect x="293.25" y="372.05" width="5.9" height="5.9" fill="#fff" stroke="#0000ff" stroke-width="1.35"/>
<rect x="293.25" y="444.05" width="5.9" height="5.9" fill="#fff" stroke="#000" stroke-width="1.35"/>
<rect x="305.65" y="369.55" width="5.9" height="5.9" fill="#fff" stroke="#0000ff" stroke-width="1.35"/>
<rect x="305.65" y="444.05" width="5.9" height="5.9" fill="#fff" stroke="#000" stroke-width="1.35"/>
<rect x="318.25" y="370.75" width="5.9" height="5.9" fill="#fff" stroke="#0000ff" stroke-width="1.35"/>
<rect x="318.25" y="445.75" width="5.9" height="5.9" fill="#fff" stroke="#000" stroke-width="1.35"/>
<ellipse cx="111.7" cy="411" rx="9.9" ry="41.5" fill="none" stroke="#000" stroke-width="1.2"/>
<line x1="121.60" y1="413.70" x2="131.00" y2="413.70" stroke="#000" stroke-width="1.3" />
<polygon points="139.7,413.7 129.2,410.8 129.2,416.6" fill="#000"/>
<text x="140.57" y="418.40" font-family="Liberation Sans" font-size="12.3" font-weight="bold" fill="#000" textLength="34.90" lengthAdjust="spacingAndGlyphs"  stroke="#000" stroke-width="0.45" stroke-linejoin="round">348 K</text>
<ellipse cx="129" cy="480.7" rx="9.5" ry="31.5" fill="none" stroke="#000" stroke-width="1.2"/>
<path d="M134.5,507.5 L141,510.6" fill="none" stroke="#000" stroke-width="1.2"/>
<polygon points="148.5,514 138.6,506.8 136.8,513" fill="#000"/>
<text x="149.85" y="518.00" font-family="Liberation Sans" font-size="12.3" font-weight="bold" fill="#000" textLength="34.53" lengthAdjust="spacingAndGlyphs"  stroke="#000" stroke-width="0.45" stroke-linejoin="round">298 K</text>
<text x="353.32" y="314.90" font-family="Liberation Sans" font-size="20.6" font-weight="normal" fill="#000" textLength="7.67" lengthAdjust="spacingAndGlyphs"  stroke="#000" stroke-width="0.6" stroke-linejoin="round">(</text>
<text x="360.87" y="314.90" font-family="Liberation Sans" font-size="20.6" font-weight="bold" fill="#000" textLength="12.70" lengthAdjust="spacingAndGlyphs" >d</text>
<text x="374.08" y="314.90" font-family="Liberation Sans" font-size="20.6" font-weight="normal" fill="#000" textLength="8.17" lengthAdjust="spacingAndGlyphs"  stroke="#000" stroke-width="0.6" stroke-linejoin="round">)</text>
<rect x="448.10" y="312.50" width="58.60" height="17.50" fill="#000"/>
<rect x="445.60" y="310.00" width="58.60" height="17.50" fill="#fff" stroke="#222" stroke-width="1"/>
<text x="454.41" y="323.70" font-family="Liberation Sans" font-size="12.3" font-weight="bold" fill="#000" textLength="39.95" lengthAdjust="spacingAndGlyphs"  stroke="#000" stroke-width="0.45" stroke-linejoin="round">Stress</text>
<rect x="582.00" y="312.50" width="69.50" height="17.50" fill="#000"/>
<rect x="579.50" y="310.00" width="69.50" height="17.50" fill="#fff" stroke="#222" stroke-width="1"/>
<text x="581.04" y="323.60" font-family="Liberation Sans" font-size="12.3" font-weight="bold" fill="#000" textLength="66.78" lengthAdjust="spacingAndGlyphs"  stroke="#000" stroke-width="0.45" stroke-linejoin="round">Relaxation</text>
<rect x="411.70" y="333.20" width="131.00" height="209.80" fill="none" stroke="#000" stroke-width="1.5"/>
<line x1="411.70" y1="511.93" x2="413.70" y2="511.93" stroke="#000" stroke-width="1.0" />
<line x1="411.70" y1="493.41" x2="413.70" y2="493.41" stroke="#000" stroke-width="1.0" />
<line x1="411.70" y1="480.26" x2="413.70" y2="480.26" stroke="#000" stroke-width="1.0" />
<line x1="411.70" y1="470.07" x2="413.70" y2="470.07" stroke="#000" stroke-width="1.0" />
<line x1="411.70" y1="461.74" x2="413.70" y2="461.74" stroke="#000" stroke-width="1.0" />
<line x1="411.70" y1="454.70" x2="413.70" y2="454.70" stroke="#000" stroke-width="1.0" />
<line x1="411.70" y1="448.59" x2="413.70" y2="448.59" stroke="#000" stroke-width="1.0" />
<line x1="411.70" y1="443.21" x2="413.70" y2="443.21" stroke="#000" stroke-width="1.0" />
<line x1="411.70" y1="438.40" x2="415.70" y2="438.40" stroke="#000" stroke-width="1.0" />
<line x1="411.70" y1="406.73" x2="413.70" y2="406.73" stroke="#000" stroke-width="1.0" />
<line x1="411.70" y1="388.21" x2="413.70" y2="388.21" stroke="#000" stroke-width="1.0" />
<line x1="411.70" y1="375.06" x2="413.70" y2="375.06" stroke="#000" stroke-width="1.0" />
<line x1="411.70" y1="364.87" x2="413.70" y2="364.87" stroke="#000" stroke-width="1.0" />
<line x1="411.70" y1="356.54" x2="413.70" y2="356.54" stroke="#000" stroke-width="1.0" />
<line x1="411.70" y1="349.50" x2="413.70" y2="349.50" stroke="#000" stroke-width="1.0" />
<line x1="411.70" y1="343.39" x2="413.70" y2="343.39" stroke="#000" stroke-width="1.0" />
<line x1="411.70" y1="338.01" x2="413.70" y2="338.01" stroke="#000" stroke-width="1.0" />
<line x1="411.70" y1="333.20" x2="415.70" y2="333.20" stroke="#000" stroke-width="1.0" />
<line x1="542.70" y1="511.93" x2="540.70" y2="511.93" stroke="#000" stroke-width="1.0" />
<line x1="542.70" y1="493.41" x2="540.70" y2="493.41" stroke="#000" stroke-width="1.0" />
<line x1="542.70" y1="480.26" x2="540.70" y2="480.26" stroke="#000" stroke-width="1.0" />
<line x1="542.70" y1="470.07" x2="540.70" y2="470.07" stroke="#000" stroke-width="1.0" />
<line x1="542.70" y1="461.74" x2="540.70" y2="461.74" stroke="#000" stroke-width="1.0" />
<line x1="542.70" y1="454.70" x2="540.70" y2="454.70" stroke="#000" stroke-width="1.0" />
<line x1="542.70" y1="448.59" x2="540.70" y2="448.59" stroke="#000" stroke-width="1.0" />
<line x1="542.70" y1="443.21" x2="540.70" y2="443.21" stroke="#000" stroke-width="1.0" />
<line x1="542.70" y1="438.40" x2="538.70" y2="438.40" stroke="#000" stroke-width="1.0" />
<line x1="542.70" y1="406.73" x2="540.70" y2="406.73" stroke="#000" stroke-width="1.0" />
<line x1="542.70" y1="388.21" x2="540.70" y2="388.21" stroke="#000" stroke-width="1.0" />
<line x1="542.70" y1="375.06" x2="540.70" y2="375.06" stroke="#000" stroke-width="1.0" />
<line x1="542.70" y1="364.87" x2="540.70" y2="364.87" stroke="#000" stroke-width="1.0" />
<line x1="542.70" y1="356.54" x2="540.70" y2="356.54" stroke="#000" stroke-width="1.0" />
<line x1="542.70" y1="349.50" x2="540.70" y2="349.50" stroke="#000" stroke-width="1.0" />
<line x1="542.70" y1="343.39" x2="540.70" y2="343.39" stroke="#000" stroke-width="1.0" />
<line x1="542.70" y1="338.01" x2="540.70" y2="338.01" stroke="#000" stroke-width="1.0" />
<line x1="542.70" y1="333.20" x2="538.70" y2="333.20" stroke="#000" stroke-width="1.0" />
<rect x="550.70" y="333.20" width="130.50" height="209.80" fill="none" stroke="#000" stroke-width="1.5"/>
<line x1="550.70" y1="511.93" x2="552.70" y2="511.93" stroke="#000" stroke-width="1.0" />
<line x1="550.70" y1="493.41" x2="552.70" y2="493.41" stroke="#000" stroke-width="1.0" />
<line x1="550.70" y1="480.26" x2="552.70" y2="480.26" stroke="#000" stroke-width="1.0" />
<line x1="550.70" y1="470.07" x2="552.70" y2="470.07" stroke="#000" stroke-width="1.0" />
<line x1="550.70" y1="461.74" x2="552.70" y2="461.74" stroke="#000" stroke-width="1.0" />
<line x1="550.70" y1="454.70" x2="552.70" y2="454.70" stroke="#000" stroke-width="1.0" />
<line x1="550.70" y1="448.59" x2="552.70" y2="448.59" stroke="#000" stroke-width="1.0" />
<line x1="550.70" y1="443.21" x2="552.70" y2="443.21" stroke="#000" stroke-width="1.0" />
<line x1="550.70" y1="438.40" x2="554.70" y2="438.40" stroke="#000" stroke-width="1.0" />
<line x1="550.70" y1="406.73" x2="552.70" y2="406.73" stroke="#000" stroke-width="1.0" />
<line x1="550.70" y1="388.21" x2="552.70" y2="388.21" stroke="#000" stroke-width="1.0" />
<line x1="550.70" y1="375.06" x2="552.70" y2="375.06" stroke="#000" stroke-width="1.0" />
<line x1="550.70" y1="364.87" x2="552.70" y2="364.87" stroke="#000" stroke-width="1.0" />
<line x1="550.70" y1="356.54" x2="552.70" y2="356.54" stroke="#000" stroke-width="1.0" />
<line x1="550.70" y1="349.50" x2="552.70" y2="349.50" stroke="#000" stroke-width="1.0" />
<line x1="550.70" y1="343.39" x2="552.70" y2="343.39" stroke="#000" stroke-width="1.0" />
<line x1="550.70" y1="338.01" x2="552.70" y2="338.01" stroke="#000" stroke-width="1.0" />
<line x1="550.70" y1="333.20" x2="554.70" y2="333.20" stroke="#000" stroke-width="1.0" />
<line x1="681.20" y1="511.93" x2="679.20" y2="511.93" stroke="#000" stroke-width="1.0" />
<line x1="681.20" y1="493.41" x2="679.20" y2="493.41" stroke="#000" stroke-width="1.0" />
<line x1="681.20" y1="480.26" x2="679.20" y2="480.26" stroke="#000" stroke-width="1.0" />
<line x1="681.20" y1="470.07" x2="679.20" y2="470.07" stroke="#000" stroke-width="1.0" />
<line x1="681.20" y1="461.74" x2="679.20" y2="461.74" stroke="#000" stroke-width="1.0" />
<line x1="681.20" y1="454.70" x2="679.20" y2="454.70" stroke="#000" stroke-width="1.0" />
<line x1="681.20" y1="448.59" x2="679.20" y2="448.59" stroke="#000" stroke-width="1.0" />
<line x1="681.20" y1="443.21" x2="679.20" y2="443.21" stroke="#000" stroke-width="1.0" />
<line x1="681.20" y1="438.40" x2="677.20" y2="438.40" stroke="#000" stroke-width="1.0" />
<line x1="681.20" y1="406.73" x2="679.20" y2="406.73" stroke="#000" stroke-width="1.0" />
<line x1="681.20" y1="388.21" x2="679.20" y2="388.21" stroke="#000" stroke-width="1.0" />
<line x1="681.20" y1="375.06" x2="679.20" y2="375.06" stroke="#000" stroke-width="1.0" />
<line x1="681.20" y1="364.87" x2="679.20" y2="364.87" stroke="#000" stroke-width="1.0" />
<line x1="681.20" y1="356.54" x2="679.20" y2="356.54" stroke="#000" stroke-width="1.0" />
<line x1="681.20" y1="349.50" x2="679.20" y2="349.50" stroke="#000" stroke-width="1.0" />
<line x1="681.20" y1="343.39" x2="679.20" y2="343.39" stroke="#000" stroke-width="1.0" />
<line x1="681.20" y1="338.01" x2="679.20" y2="338.01" stroke="#000" stroke-width="1.0" />
<line x1="681.20" y1="333.20" x2="677.20" y2="333.20" stroke="#000" stroke-width="1.0" />
<line x1="412.73" y1="543.00" x2="412.73" y2="541.00" stroke="#000" stroke-width="1.0" />
<line x1="415.22" y1="543.00" x2="415.22" y2="541.00" stroke="#000" stroke-width="1.0" />
<line x1="417.39" y1="543.00" x2="417.39" y2="541.00" stroke="#000" stroke-width="1.0" />
<line x1="419.29" y1="543.00" x2="419.29" y2="541.00" stroke="#000" stroke-width="1.0" />
<line x1="421.00" y1="543.00" x2="421.00" y2="539.00" stroke="#000" stroke-width="1.0" />
<line x1="432.23" y1="543.00" x2="432.23" y2="541.00" stroke="#000" stroke-width="1.0" />
<line x1="438.80" y1="543.00" x2="438.80" y2="541.00" stroke="#000" stroke-width="1.0" />
<line x1="443.46" y1="543.00" x2="443.46" y2="541.00" stroke="#000" stroke-width="1.0" />
<line x1="447.07" y1="543.00" x2="447.07" y2="541.00" stroke="#000" stroke-width="1.0" />
<line x1="450.03" y1="543.00" x2="450.03" y2="541.00" stroke="#000" stroke-width="1.0" />
<line x1="452.52" y1="543.00" x2="452.52" y2="541.00" stroke="#000" stroke-width="1.0" />
<line x1="454.69" y1="543.00" x2="454.69" y2="541.00" stroke="#000" stroke-width="1.0" />
<line x1="456.59" y1="543.00" x2="456.59" y2="541.00" stroke="#000" stroke-width="1.0" />
<line x1="458.30" y1="543.00" x2="458.30" y2="539.00" stroke="#000" stroke-width="1.0" />
<line x1="469.53" y1="543.00" x2="469.53" y2="541.00" stroke="#000" stroke-width="1.0" />
<line x1="476.10" y1="543.00" x2="476.10" y2="541.00" stroke="#000" stroke-width="1.0" />
<line x1="480.76" y1="543.00" x2="480.76" y2="541.00" stroke="#000" stroke-width="1.0" />
<line x1="484.37" y1="543.00" x2="484.37" y2="541.00" stroke="#000" stroke-width="1.0" />
<line x1="487.33" y1="543.00" x2="487.33" y2="541.00" stroke="#000" stroke-width="1.0" />
<line x1="489.82" y1="543.00" x2="489.82" y2="541.00" stroke="#000" stroke-width="1.0" />
<line x1="491.99" y1="543.00" x2="491.99" y2="541.00" stroke="#000" stroke-width="1.0" />
<line x1="493.89" y1="543.00" x2="493.89" y2="541.00" stroke="#000" stroke-width="1.0" />
<line x1="495.60" y1="543.00" x2="495.60" y2="539.00" stroke="#000" stroke-width="1.0" />
<line x1="506.83" y1="543.00" x2="506.83" y2="541.00" stroke="#000" stroke-width="1.0" />
<line x1="513.40" y1="543.00" x2="513.40" y2="541.00" stroke="#000" stroke-width="1.0" />
<line x1="518.06" y1="543.00" x2="518.06" y2="541.00" stroke="#000" stroke-width="1.0" />
<line x1="521.67" y1="543.00" x2="521.67" y2="541.00" stroke="#000" stroke-width="1.0" />
<line x1="524.63" y1="543.00" x2="524.63" y2="541.00" stroke="#000" stroke-width="1.0" />
<line x1="527.12" y1="543.00" x2="527.12" y2="541.00" stroke="#000" stroke-width="1.0" />
<line x1="529.29" y1="543.00" x2="529.29" y2="541.00" stroke="#000" stroke-width="1.0" />
<line x1="531.19" y1="543.00" x2="531.19" y2="541.00" stroke="#000" stroke-width="1.0" />
<line x1="532.90" y1="543.00" x2="532.90" y2="539.00" stroke="#000" stroke-width="1.0" />
<line x1="551.98" y1="543.00" x2="551.98" y2="541.00" stroke="#000" stroke-width="1.0" />
<line x1="554.46" y1="543.00" x2="554.46" y2="541.00" stroke="#000" stroke-width="1.0" />
<line x1="556.61" y1="543.00" x2="556.61" y2="541.00" stroke="#000" stroke-width="1.0" />
<line x1="558.51" y1="543.00" x2="558.51" y2="541.00" stroke="#000" stroke-width="1.0" />
<line x1="560.20" y1="543.00" x2="560.20" y2="539.00" stroke="#000" stroke-width="1.0" />
<line x1="571.35" y1="543.00" x2="571.35" y2="541.00" stroke="#000" stroke-width="1.0" />
<line x1="577.87" y1="543.00" x2="577.87" y2="541.00" stroke="#000" stroke-width="1.0" />
<line x1="582.49" y1="543.00" x2="582.49" y2="541.00" stroke="#000" stroke-width="1.0" />
<line x1="586.08" y1="543.00" x2="586.08" y2="541.00" stroke="#000" stroke-width="1.0" />
<line x1="589.01" y1="543.00" x2="589.01" y2="541.00" stroke="#000" stroke-width="1.0" />
<line x1="591.49" y1="543.00" x2="591.49" y2="541.00" stroke="#000" stroke-width="1.0" />
<line x1="593.64" y1="543.00" x2="593.64" y2="541.00" stroke="#000" stroke-width="1.0" />
<line x1="595.54" y1="543.00" x2="595.54" y2="541.00" stroke="#000" stroke-width="1.0" />
<line x1="597.23" y1="543.00" x2="597.23" y2="539.00" stroke="#000" stroke-width="1.0" />
<line x1="608.38" y1="543.00" x2="608.38" y2="541.00" stroke="#000" stroke-width="1.0" />
<line x1="614.90" y1="543.00" x2="614.90" y2="541.00" stroke="#000" stroke-width="1.0" />
<line x1="619.52" y1="543.00" x2="619.52" y2="541.00" stroke="#000" stroke-width="1.0" />
<line x1="623.11" y1="543.00" x2="623.11" y2="541.00" stroke="#000" stroke-width="1.0" />
<line x1="626.04" y1="543.00" x2="626.04" y2="541.00" stroke="#000" stroke-width="1.0" />
<line x1="628.52" y1="543.00" x2="628.52" y2="541.00" stroke="#000" stroke-width="1.0" />
<line x1="630.67" y1="543.00" x2="630.67" y2="541.00" stroke="#000" stroke-width="1.0" />
<line x1="632.57" y1="543.00" x2="632.57" y2="541.00" stroke="#000" stroke-width="1.0" />
<line x1="634.26" y1="543.00" x2="634.26" y2="539.00" stroke="#000" stroke-width="1.0" />
<line x1="645.41" y1="543.00" x2="645.41" y2="541.00" stroke="#000" stroke-width="1.0" />
<line x1="651.93" y1="543.00" x2="651.93" y2="541.00" stroke="#000" stroke-width="1.0" />
<line x1="656.55" y1="543.00" x2="656.55" y2="541.00" stroke="#000" stroke-width="1.0" />
<line x1="660.14" y1="543.00" x2="660.14" y2="541.00" stroke="#000" stroke-width="1.0" />
<line x1="663.07" y1="543.00" x2="663.07" y2="541.00" stroke="#000" stroke-width="1.0" />
<line x1="665.55" y1="543.00" x2="665.55" y2="541.00" stroke="#000" stroke-width="1.0" />
<line x1="667.70" y1="543.00" x2="667.70" y2="541.00" stroke="#000" stroke-width="1.0" />
<line x1="669.60" y1="543.00" x2="669.60" y2="541.00" stroke="#000" stroke-width="1.0" />
<line x1="671.29" y1="543.00" x2="671.29" y2="539.00" stroke="#000" stroke-width="1.0" />
<text x="401.40" y="332.70" font-family="Liberation Sans" font-size="10.8" font-weight="bold" fill="#000" textLength="6.31" lengthAdjust="spacingAndGlyphs"  stroke="#000" stroke-width="0.45" stroke-linejoin="round">3</text>
<text x="383.91" y="338.70" font-family="Liberation Sans" font-size="15.6" font-weight="bold" fill="#000" textLength="18.06" lengthAdjust="spacingAndGlyphs"  stroke="#000" stroke-width="0.45" stroke-linejoin="round">10</text>
<text x="401.46" y="437.90" font-family="Liberation Sans" font-size="10.8" font-weight="bold" fill="#000" textLength="6.31" lengthAdjust="spacingAndGlyphs"  stroke="#000" stroke-width="0.45" stroke-linejoin="round">2</text>
<text x="384.08" y="443.90" font-family="Liberation Sans" font-size="15.6" font-weight="bold" fill="#000" textLength="18.06" lengthAdjust="spacingAndGlyphs"  stroke="#000" stroke-width="0.45" stroke-linejoin="round">10</text>
<text x="401.29" y="543.10" font-family="Liberation Sans" font-size="10.8" font-weight="bold" fill="#000" textLength="6.31" lengthAdjust="spacingAndGlyphs"  stroke="#000" stroke-width="0.45" stroke-linejoin="round">1</text>
<text x="384.20" y="549.10" font-family="Liberation Sans" font-size="15.6" font-weight="bold" fill="#000" textLength="18.06" lengthAdjust="spacingAndGlyphs"  stroke="#000" stroke-width="0.45" stroke-linejoin="round">10</text>
<text x="409.38" y="563.20" font-family="Liberation Sans" font-size="15.6" font-weight="bold" fill="#000" textLength="18.06" lengthAdjust="spacingAndGlyphs"  stroke="#000" stroke-width="0.45" stroke-linejoin="round">10</text>
<text x="426.80" y="557.20" font-family="Liberation Sans" font-size="10.8" font-weight="bold" fill="#000" textLength="6.31" lengthAdjust="spacingAndGlyphs"  stroke="#000" stroke-width="0.45" stroke-linejoin="round">0</text>
<text x="548.58" y="563.20" font-family="Liberation Sans" font-size="15.6" font-weight="bold" fill="#000" textLength="18.06" lengthAdjust="spacingAndGlyphs"  stroke="#000" stroke-width="0.45" stroke-linejoin="round">10</text>
<text x="566.00" y="557.20" font-family="Liberation Sans" font-size="10.8" font-weight="bold" fill="#000" textLength="6.31" lengthAdjust="spacingAndGlyphs"  stroke="#000" stroke-width="0.45" stroke-linejoin="round">0</text>
<text x="446.71" y="563.20" font-family="Liberation Sans" font-size="15.6" font-weight="bold" fill="#000" textLength="18.06" lengthAdjust="spacingAndGlyphs"  stroke="#000" stroke-width="0.45" stroke-linejoin="round">10</text>
<text x="463.90" y="557.20" font-family="Liberation Sans" font-size="10.8" font-weight="bold" fill="#000" textLength="6.31" lengthAdjust="spacingAndGlyphs"  stroke="#000" stroke-width="0.45" stroke-linejoin="round">1</text>
<text x="585.64" y="563.20" font-family="Liberation Sans" font-size="15.6" font-weight="bold" fill="#000" textLength="18.06" lengthAdjust="spacingAndGlyphs"  stroke="#000" stroke-width="0.45" stroke-linejoin="round">10</text>
<text x="602.83" y="557.20" font-family="Liberation Sans" font-size="10.8" font-weight="bold" fill="#000" textLength="6.31" lengthAdjust="spacingAndGlyphs"  stroke="#000" stroke-width="0.45" stroke-linejoin="round">1</text>
<text x="483.95" y="563.20" font-family="Liberation Sans" font-size="15.6" font-weight="bold" fill="#000" textLength="18.06" lengthAdjust="spacingAndGlyphs"  stroke="#000" stroke-width="0.45" stroke-linejoin="round">10</text>
<text x="501.43" y="557.20" font-family="Liberation Sans" font-size="10.8" font-weight="bold" fill="#000" textLength="6.31" lengthAdjust="spacingAndGlyphs"  stroke="#000" stroke-width="0.45" stroke-linejoin="round">2</text>
<text x="622.61" y="563.20" font-family="Liberation Sans" font-size="15.6" font-weight="bold" fill="#000" textLength="18.06" lengthAdjust="spacingAndGlyphs"  stroke="#000" stroke-width="0.45" stroke-linejoin="round">10</text>
<text x="640.09" y="557.20" font-family="Liberation Sans" font-size="10.8" font-weight="bold" fill="#000" textLength="6.31" lengthAdjust="spacingAndGlyphs"  stroke="#000" stroke-width="0.45" stroke-linejoin="round">2</text>
<text x="521.17" y="563.20" font-family="Liberation Sans" font-size="15.6" font-weight="bold" fill="#000" textLength="18.06" lengthAdjust="spacingAndGlyphs"  stroke="#000" stroke-width="0.45" stroke-linejoin="round">10</text>
<text x="538.76" y="557.20" font-family="Liberation Sans" font-size="10.8" font-weight="bold" fill="#000" textLength="6.31" lengthAdjust="spacingAndGlyphs"  stroke="#000" stroke-width="0.45" stroke-linejoin="round">3</text>
<text x="659.56" y="563.20" font-family="Liberation Sans" font-size="15.6" font-weight="bold" fill="#000" textLength="18.06" lengthAdjust="spacingAndGlyphs"  stroke="#000" stroke-width="0.45" stroke-linejoin="round">10</text>
<text x="677.15" y="557.20" font-family="Liberation Sans" font-size="10.8" font-weight="bold" fill="#000" textLength="6.31" lengthAdjust="spacingAndGlyphs"  stroke="#000" stroke-width="0.45" stroke-linejoin="round">3</text>
<text x="452.12" y="585.70" font-family="Liberation Sans" font-size="14.5" font-weight="bold" fill="#000" textLength="6.12" lengthAdjust="spacingAndGlyphs"  stroke="#000" stroke-width="0.45" stroke-linejoin="round">t</text>
<text x="457.83" y="590.40" font-family="Liberation Sans" font-size="12" font-weight="bold" fill="#000" textLength="30.91" lengthAdjust="spacingAndGlyphs"  stroke="#000" stroke-width="0.45" stroke-linejoin="round">stress</text>
<text x="492.70" y="588.00" font-family="Liberation Sans" font-size="16.5" font-weight="bold" fill="#000" textLength="19.66" lengthAdjust="spacingAndGlyphs"  stroke="#000" stroke-width="0.45" stroke-linejoin="round">(s)</text>
<text x="595.82" y="585.70" font-family="Liberation Sans" font-size="14.5" font-weight="bold" fill="#000" textLength="6.12" lengthAdjust="spacingAndGlyphs"  stroke="#000" stroke-width="0.45" stroke-linejoin="round">t</text>
<text x="600.51" y="590.40" font-family="Liberation Sans" font-size="12" font-weight="bold" fill="#000" textLength="24.95" lengthAdjust="spacingAndGlyphs"  stroke="#000" stroke-width="0.45" stroke-linejoin="round">relax</text>
<text x="629.80" y="588.00" font-family="Liberation Sans" font-size="16.5" font-weight="bold" fill="#000" textLength="19.56" lengthAdjust="spacingAndGlyphs"  stroke="#000" stroke-width="0.45" stroke-linejoin="round">(s)</text>
<text transform="translate(375.60,467.48) rotate(-90)" x="0" y="0" font-family="Liberation Sans" font-size="14.6" font-weight="bold" fill="#000" textLength="8.65" lengthAdjust="spacingAndGlyphs"  stroke="#000" stroke-width="0.45" stroke-linejoin="round">Δ</text>
<text transform="translate(375.60,459.14) rotate(-90)" x="0" y="0" font-family="Liberation Sans" font-size="14.6" font-weight="bold" font-style="italic" fill="#000" textLength="14.36" lengthAdjust="spacingAndGlyphs"  stroke="#000" stroke-width="0.45" stroke-linejoin="round">I/I</text>
<text transform="translate(378.30,445.95) rotate(-90)" x="0" y="0" font-family="Liberation Sans" font-size="10" font-weight="bold" fill="#000" textLength="6.71" lengthAdjust="spacingAndGlyphs"  stroke="#000" stroke-width="0.45" stroke-linejoin="round">O</text>
<text transform="translate(375.50,435.39) rotate(-90)" x="0" y="0" font-family="Liberation Sans" font-size="17" font-weight="bold" fill="#000" textLength="24.58" lengthAdjust="spacingAndGlyphs"  stroke="#000" stroke-width="0.45" stroke-linejoin="round">(%)</text>
<circle cx="421.00" cy="496.20" r="4.2" fill="#0000ff"/>
<circle cx="421.00" cy="443.20" r="4.2" fill="#000"/>
<circle cx="432.60" cy="505.60" r="4.2" fill="#0000ff"/>
<circle cx="432.60" cy="438.00" r="4.2" fill="#000"/>
<circle cx="443.30" cy="518.00" r="4.2" fill="#0000ff"/>
<circle cx="443.30" cy="425.60" r="4.2" fill="#000"/>
<circle cx="458.50" cy="506.30" r="4.2" fill="#0000ff"/>
<circle cx="458.50" cy="413.30" r="4.2" fill="#000"/>
<circle cx="471.00" cy="493.40" r="4.2" fill="#0000ff"/>
<circle cx="471.00" cy="402.10" r="4.2" fill="#000"/>
<circle cx="483.00" cy="487.50" r="4.2" fill="#0000ff"/>
<circle cx="483.00" cy="401.00" r="4.2" fill="#000"/>
<circle cx="495.60" cy="482.20" r="4.2" fill="#0000ff"/>
<circle cx="495.60" cy="387.50" r="4.2" fill="#000"/>
<circle cx="508.00" cy="478.60" r="4.2" fill="#0000ff"/>
<circle cx="508.00" cy="382.80" r="4.2" fill="#000"/>
<circle cx="520.60" cy="477.50" r="4.2" fill="#0000ff"/>
<circle cx="520.60" cy="376.50" r="4.2" fill="#000"/>
<circle cx="533.00" cy="458.70" r="4.2" fill="#0000ff"/>
<circle cx="533.00" cy="370.00" r="4.2" fill="#000"/>
<rect x="418.05" y="508.05" width="5.9" height="5.9" fill="#fff" stroke="#0000ff" stroke-width="1.35"/>
<rect x="418.05" y="459.55" width="5.9" height="5.9" fill="#fff" stroke="#000" stroke-width="1.35"/>
<rect x="429.65" y="500.25" width="5.9" height="5.9" fill="#fff" stroke="#0000ff" stroke-width="1.35"/>
<rect x="429.65" y="450.35" width="5.9" height="5.9" fill="#fff" stroke="#000" stroke-width="1.35"/>
<rect x="440.35" y="493.25" width="5.9" height="5.9" fill="#fff" stroke="#0000ff" stroke-width="1.35"/>
<rect x="440.35" y="448.65" width="5.9" height="5.9" fill="#fff" stroke="#000" stroke-width="1.35"/>
<rect x="455.55" y="493.25" width="5.9" height="5.9" fill="#fff" stroke="#0000ff" stroke-width="1.35"/>
<rect x="455.55" y="438.05" width="5.9" height="5.9" fill="#fff" stroke="#000" stroke-width="1.35"/>
<rect x="468.05" y="484.55" width="5.9" height="5.9" fill="#fff" stroke="#0000ff" stroke-width="1.35"/>
<rect x="468.05" y="433.35" width="5.9" height="5.9" fill="#fff" stroke="#000" stroke-width="1.35"/>
<rect x="480.05" y="490.95" width="5.9" height="5.9" fill="#fff" stroke="#0000ff" stroke-width="1.35"/>
<rect x="480.05" y="432.05" width="5.9" height="5.9" fill="#fff" stroke="#000" stroke-width="1.35"/>
<rect x="492.65" y="465.65" width="5.9" height="5.9" fill="#fff" stroke="#0000ff" stroke-width="1.35"/>
<rect x="492.65" y="431.55" width="5.9" height="5.9" fill="#fff" stroke="#000" stroke-width="1.35"/>
<rect x="505.05" y="468.65" width="5.9" height="5.9" fill="#fff" stroke="#0000ff" stroke-width="1.35"/>
<rect x="505.05" y="430.05" width="5.9" height="5.9" fill="#fff" stroke="#000" stroke-width="1.35"/>
<rect x="517.65" y="461.65" width="5.9" height="5.9" fill="#fff" stroke="#0000ff" stroke-width="1.35"/>
<rect x="517.65" y="428.25" width="5.9" height="5.9" fill="#fff" stroke="#000" stroke-width="1.35"/>
<rect x="530.05" y="459.25" width="5.9" height="5.9" fill="#fff" stroke="#0000ff" stroke-width="1.35"/>
<rect x="530.05" y="428.25" width="5.9" height="5.9" fill="#fff" stroke="#000" stroke-width="1.35"/>
<circle cx="560.20" cy="470.70" r="4.2" fill="#0000ff"/>
<circle cx="560.20" cy="381.20" r="4.2" fill="#000"/>
<circle cx="571.20" cy="460.20" r="4.2" fill="#0000ff"/>
<circle cx="571.20" cy="383.70" r="4.2" fill="#000"/>
<circle cx="582.70" cy="465.20" r="4.2" fill="#0000ff"/>
<circle cx="582.70" cy="383.00" r="4.2" fill="#000"/>
<circle cx="597.90" cy="462.40" r="4.2" fill="#0000ff"/>
<circle cx="597.90" cy="381.20" r="4.2" fill="#000"/>
<circle cx="610.20" cy="464.40" r="4.2" fill="#0000ff"/>
<circle cx="610.20" cy="385.70" r="4.2" fill="#000"/>
<circle cx="622.60" cy="463.50" r="4.2" fill="#0000ff"/>
<circle cx="622.60" cy="387.00" r="4.2" fill="#000"/>
<circle cx="634.40" cy="464.40" r="4.2" fill="#0000ff"/>
<circle cx="634.40" cy="387.00" r="4.2" fill="#000"/>
<circle cx="647.40" cy="460.80" r="4.2" fill="#0000ff"/>
<circle cx="647.40" cy="387.00" r="4.2" fill="#000"/>
<circle cx="659.70" cy="456.10" r="4.2" fill="#0000ff"/>
<circle cx="659.70" cy="395.00" r="4.2" fill="#000"/>
<circle cx="672.10" cy="465.70" r="4.2" fill="#0000ff"/>
<circle cx="672.10" cy="396.70" r="4.2" fill="#000"/>
<rect x="557.25" y="464.15" width="5.9" height="5.9" fill="#fff" stroke="#0000ff" stroke-width="1.35"/>
<rect x="557.25" y="427.05" width="5.9" height="5.9" fill="#fff" stroke="#000" stroke-width="1.35"/>
<rect x="568.25" y="465.55" width="5.9" height="5.9" fill="#fff" stroke="#0000ff" stroke-width="1.35"/>
<rect x="568.25" y="427.75" width="5.9" height="5.9" fill="#fff" stroke="#000" stroke-width="1.35"/>
<rect x="579.75" y="465.05" width="5.9" height="5.9" fill="#fff" stroke="#0000ff" stroke-width="1.35"/>
<rect x="579.75" y="429.55" width="5.9" height="5.9" fill="#fff" stroke="#000" stroke-width="1.35"/>
<rect x="594.95" y="465.55" width="5.9" height="5.9" fill="#fff" stroke="#0000ff" stroke-width="1.35"/>
<rect x="594.95" y="429.05" width="5.9" height="5.9" fill="#fff" stroke="#000" stroke-width="1.35"/>
<rect x="607.25" y="465.55" width="5.9" height="5.9" fill="#fff" stroke="#0000ff" stroke-width="1.35"/>
<rect x="607.25" y="430.75" width="5.9" height="5.9" fill="#fff" stroke="#000" stroke-width="1.35"/>
<rect x="619.65" y="465.05" width="5.9" height="5.9" fill="#fff" stroke="#0000ff" stroke-width="1.35"/>
<rect x="619.65" y="431.55" width="5.9" height="5.9" fill="#fff" stroke="#000" stroke-width="1.35"/>
<rect x="631.45" y="463.35" width="5.9" height="5.9" fill="#fff" stroke="#0000ff" stroke-width="1.35"/>
<rect x="631.45" y="434.05" width="5.9" height="5.9" fill="#fff" stroke="#000" stroke-width="1.35"/>
<rect x="644.45" y="463.35" width="5.9" height="5.9" fill="#fff" stroke="#0000ff" stroke-width="1.35"/>
<rect x="644.45" y="435.75" width="5.9" height="5.9" fill="#fff" stroke="#000" stroke-width="1.35"/>
<rect x="656.75" y="454.05" width="5.9" height="5.9" fill="#fff" stroke="#0000ff" stroke-width="1.35"/>
<rect x="656.75" y="437.45" width="5.9" height="5.9" fill="#fff" stroke="#000" stroke-width="1.35"/>
<rect x="669.15" y="458.05" width="5.9" height="5.9" fill="#fff" stroke="#0000ff" stroke-width="1.35"/>
<rect x="669.15" y="442.15" width="5.9" height="5.9" fill="#fff" stroke="#000" stroke-width="1.35"/>
<line x1="413.00" y1="442.20" x2="537.00" y2="370.50" stroke="#000" stroke-width="0.75" />
<line x1="420.00" y1="456.10" x2="537.00" y2="425.80" stroke="#000" stroke-width="0.75" />
<line x1="419.00" y1="510.50" x2="537.00" y2="460.10" stroke="#0000ff" stroke-width="0.75" />
<line x1="419.00" y1="513.20" x2="537.00" y2="467.10" stroke="#0000ff" stroke-width="0.75" />
<path d="M557,380.5 Q630,385.5 675,397" fill="none" stroke="#000" stroke-width="0.75"/>
<path d="M557.8,429.2 Q635,433 675,443.5" fill="none" stroke="#000" stroke-width="0.75"/>
<path d="M557.8,463.2 L640,463.2 Q660,463 674.3,462" fill="none" stroke="#0000ff" stroke-width="0.75"/>
<path d="M557.8,468.1 L674.3,465.1" fill="none" stroke="#0000ff" stroke-width="0.75"/>
<ellipse cx="457" cy="424.1" rx="10" ry="31" fill="none" stroke="#000" stroke-width="1.2"/>
<line x1="453.70" y1="395.00" x2="449.50" y2="391.00" stroke="#000" stroke-width="1.2" />
<polygon points="445.5,387 452.5,389.5 448,394" fill="#000"/>
<text x="422.86" y="383.70" font-family="Liberation Sans" font-size="10.5" font-weight="bold" fill="#000" textLength="36.87" lengthAdjust="spacingAndGlyphs"  stroke="#000" stroke-width="0.45" stroke-linejoin="round">B-BOE</text>
<ellipse cx="458.5" cy="497.9" rx="10.2" ry="31.7" fill="none" stroke="#000" stroke-width="1.2"/>
<line x1="468.00" y1="519.60" x2="483.00" y2="523.00" stroke="#000" stroke-width="1.2" />
<polygon points="489.5,524.5 482,519.5 480.5,526" fill="#000"/>
<text x="489.94" y="530.60" font-family="Liberation Sans" font-size="10.5" font-weight="bold" fill="#000" textLength="33.50" lengthAdjust="spacingAndGlyphs"  stroke="#000" stroke-width="0.45" stroke-linejoin="round">A-UVO</text>
<text x="495.76" y="357.90" font-family="Liberation Sans" font-size="11" font-weight="bold" fill="#000" textLength="6.05" lengthAdjust="spacingAndGlyphs"  stroke="#000" stroke-width="0.45" stroke-linejoin="round">n</text>
<text x="502.54" y="361.40" font-family="Liberation Sans" font-size="8" font-weight="bold" fill="#000" textLength="5.79" lengthAdjust="spacingAndGlyphs"  stroke="#000" stroke-width="0.45" stroke-linejoin="round">s</text>
<text x="506.46" y="357.90" font-family="Liberation Sans" font-size="10.7" font-weight="bold" fill="#000" textLength="27.80" lengthAdjust="spacingAndGlyphs"  stroke="#000" stroke-width="0.45" stroke-linejoin="round">=0.24</text>
<text x="499.86" y="417.20" font-family="Liberation Sans" font-size="11" font-weight="bold" fill="#000" textLength="6.05" lengthAdjust="spacingAndGlyphs"  stroke="#000" stroke-width="0.45" stroke-linejoin="round">n</text>
<text x="506.64" y="420.70" font-family="Liberation Sans" font-size="8" font-weight="bold" fill="#000" textLength="5.79" lengthAdjust="spacingAndGlyphs"  stroke="#000" stroke-width="0.45" stroke-linejoin="round">s</text>
<text x="510.58" y="417.20" font-family="Liberation Sans" font-size="10.7" font-weight="bold" fill="#000" textLength="20.88" lengthAdjust="spacingAndGlyphs"  stroke="#000" stroke-width="0.45" stroke-linejoin="round">=0.1</text>
<text x="495.36" y="501.00" font-family="Liberation Sans" font-size="11" font-weight="bold" fill="#0000ff" textLength="6.05" lengthAdjust="spacingAndGlyphs"  stroke="#0000ff" stroke-width="0.45" stroke-linejoin="round">n</text>
<text x="502.14" y="504.50" font-family="Liberation Sans" font-size="8" font-weight="bold" fill="#0000ff" textLength="5.79" lengthAdjust="spacingAndGlyphs"  stroke="#0000ff" stroke-width="0.45" stroke-linejoin="round">s</text>
<text x="506.05" y="501.00" font-family="Liberation Sans" font-size="10.7" font-weight="bold" fill="#0000ff" textLength="28.71" lengthAdjust="spacingAndGlyphs"  stroke="#0000ff" stroke-width="0.45" stroke-linejoin="round">=0.14</text>
<text x="605.86" y="373.20" font-family="Liberation Sans" font-size="11" font-weight="bold" fill="#000" textLength="6.05" lengthAdjust="spacingAndGlyphs"  stroke="#000" stroke-width="0.45" stroke-linejoin="round">n</text>
<text x="611.95" y="376.70" font-family="Liberation Sans" font-size="8" font-weight="bold" fill="#000" textLength="6.28" lengthAdjust="spacingAndGlyphs"  stroke="#000" stroke-width="0.45" stroke-linejoin="round">r</text>
<text x="616.57" y="373.20" font-family="Liberation Sans" font-size="10.7" font-weight="bold" fill="#000" textLength="32.81" lengthAdjust="spacingAndGlyphs"  stroke="#000" stroke-width="0.45" stroke-linejoin="round">=0.043</text>
<text x="604.56" y="422.30" font-family="Liberation Sans" font-size="11" font-weight="bold" fill="#000" textLength="6.05" lengthAdjust="spacingAndGlyphs"  stroke="#000" stroke-width="0.45" stroke-linejoin="round">n</text>
<text x="610.65" y="425.80" font-family="Liberation Sans" font-size="8" font-weight="bold" fill="#000" textLength="6.28" lengthAdjust="spacingAndGlyphs"  stroke="#000" stroke-width="0.45" stroke-linejoin="round">r</text>
<text x="615.27" y="422.30" font-family="Liberation Sans" font-size="10.7" font-weight="bold" fill="#000" textLength="32.87" lengthAdjust="spacingAndGlyphs"  stroke="#000" stroke-width="0.45" stroke-linejoin="round">=0.042</text>
<rect x="598.70" y="499.30" width="70.60" height="34.70" fill="none" stroke="#333" stroke-width="1.0"/>
<circle cx="615.20" cy="509.70" r="4.2" fill="#000"/>
<rect x="611.70" y="521.40" width="7" height="7" fill="#fff" stroke="#000" stroke-width="1.35"/>
<text x="632.34" y="513.90" font-family="Liberation Sans" font-size="12.7" font-weight="bold" fill="#000" textLength="35.24" lengthAdjust="spacingAndGlyphs"  stroke="#000" stroke-width="0.45" stroke-linejoin="round">298 K</text>
<text x="632.47" y="529.50" font-family="Liberation Sans" font-size="12.7" font-weight="bold" fill="#000" textLength="35.11" lengthAdjust="spacingAndGlyphs"  stroke="#000" stroke-width="0.45" stroke-linejoin="round">348 K</text>
</svg>
</body></html>
